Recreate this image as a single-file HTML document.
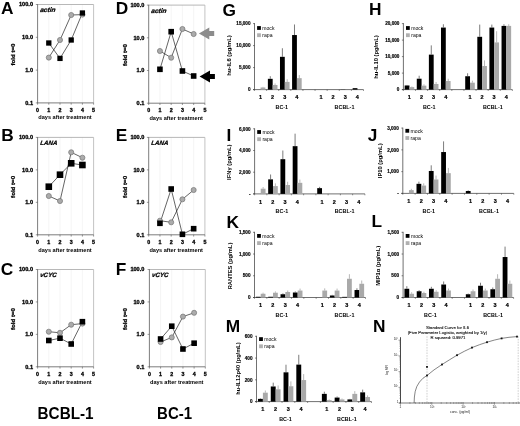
<!DOCTYPE html>
<html lang="en">
<head>
<meta charset="utf-8">
<title>Figure</title>
<style>
html,body{margin:0;padding:0;background:#fff;}
body{width:520px;height:426px;overflow:hidden;}
svg{display:block;font-family:"Liberation Sans", sans-serif;filter:blur(0.4px);}
</style>
</head>
<body>
<svg width="520" height="426" viewBox="0 0 520 426">
<rect x="0" y="0" width="520" height="426" fill="#ffffff"/>
<text x="1.00" y="14.00" font-size="17.3" font-weight="bold" font-style="normal" text-anchor="start" fill="#000">A</text>
<line x1="48.80" y1="4.50" x2="48.80" y2="102.90" stroke="#efefef" stroke-width="0.6"/>
<line x1="60.00" y1="4.50" x2="60.00" y2="102.90" stroke="#efefef" stroke-width="0.6"/>
<line x1="71.20" y1="4.50" x2="71.20" y2="102.90" stroke="#efefef" stroke-width="0.6"/>
<line x1="82.40" y1="4.50" x2="82.40" y2="102.90" stroke="#efefef" stroke-width="0.6"/>
<line x1="37.60" y1="4.50" x2="93.60" y2="4.50" stroke="#9a9a9a" stroke-width="0.7"/>
<line x1="93.60" y1="4.50" x2="93.60" y2="102.90" stroke="#b4b4b4" stroke-width="0.8"/>
<line x1="37.60" y1="4.20" x2="37.60" y2="103.20" stroke="#5c5c5c" stroke-width="0.8"/>
<line x1="37.60" y1="102.90" x2="93.60" y2="102.90" stroke="#5c5c5c" stroke-width="0.8"/>
<line x1="35.80" y1="4.50" x2="37.60" y2="4.50" stroke="#555" stroke-width="0.6"/>
<text x="33.00" y="6.45" font-size="5.6" font-weight="bold" font-style="normal" text-anchor="end" fill="#000" stroke="#000" stroke-width="0.3">100.0</text>
<line x1="35.80" y1="37.30" x2="37.60" y2="37.30" stroke="#555" stroke-width="0.6"/>
<text x="33.00" y="39.25" font-size="5.6" font-weight="bold" font-style="normal" text-anchor="end" fill="#000" stroke="#000" stroke-width="0.3">10.0</text>
<line x1="35.80" y1="70.10" x2="37.60" y2="70.10" stroke="#555" stroke-width="0.6"/>
<text x="33.00" y="72.05" font-size="5.6" font-weight="bold" font-style="normal" text-anchor="end" fill="#000" stroke="#000" stroke-width="0.3">1.0</text>
<line x1="35.80" y1="102.90" x2="37.60" y2="102.90" stroke="#555" stroke-width="0.6"/>
<text x="33.00" y="104.85" font-size="5.6" font-weight="bold" font-style="normal" text-anchor="end" fill="#000" stroke="#000" stroke-width="0.3">0.1</text>
<line x1="37.60" y1="102.90" x2="37.60" y2="104.70" stroke="#555" stroke-width="0.6"/>
<text x="37.60" y="112.10" font-size="5.3" font-weight="bold" font-style="normal" text-anchor="middle" fill="#000" stroke="#000" stroke-width="0.3">0</text>
<line x1="48.80" y1="102.90" x2="48.80" y2="104.70" stroke="#555" stroke-width="0.6"/>
<text x="48.80" y="112.10" font-size="5.3" font-weight="bold" font-style="normal" text-anchor="middle" fill="#000" stroke="#000" stroke-width="0.3">1</text>
<line x1="60.00" y1="102.90" x2="60.00" y2="104.70" stroke="#555" stroke-width="0.6"/>
<text x="60.00" y="112.10" font-size="5.3" font-weight="bold" font-style="normal" text-anchor="middle" fill="#000" stroke="#000" stroke-width="0.3">2</text>
<line x1="71.20" y1="102.90" x2="71.20" y2="104.70" stroke="#555" stroke-width="0.6"/>
<text x="71.20" y="112.10" font-size="5.3" font-weight="bold" font-style="normal" text-anchor="middle" fill="#000" stroke="#000" stroke-width="0.3">3</text>
<line x1="82.40" y1="102.90" x2="82.40" y2="104.70" stroke="#555" stroke-width="0.6"/>
<text x="82.40" y="112.10" font-size="5.3" font-weight="bold" font-style="normal" text-anchor="middle" fill="#000" stroke="#000" stroke-width="0.3">4</text>
<line x1="93.60" y1="102.90" x2="93.60" y2="104.70" stroke="#555" stroke-width="0.6"/>
<text x="93.60" y="112.10" font-size="5.3" font-weight="bold" font-style="normal" text-anchor="middle" fill="#000" stroke="#000" stroke-width="0.3">5</text>
<text x="65.00" y="119.20" font-size="5.6" font-weight="bold" font-style="normal" text-anchor="middle" fill="#000">days after treatment</text>
<text x="14.90" y="54.50" font-size="5.7" font-weight="bold" font-style="normal" text-anchor="middle" fill="#000" stroke="#000" stroke-width="0.25" transform="rotate(-90 14.90 54.50)" textLength="22" lengthAdjust="spacingAndGlyphs">fold t=0</text>
<text x="39.90" y="12.50" font-size="6.6" font-weight="bold" font-style="italic" text-anchor="start" fill="#000" stroke="#000" stroke-width="0.25" transform="translate(39.90 12.50) skewX(-7) translate(-39.90 -12.50)">actin</text>
<polyline points="48.80,57.60 60.00,40.00 71.20,15.00 82.40,14.60" fill="none" stroke="#222" stroke-width="0.7"/>
<polyline points="48.80,43.00 60.00,58.40 71.20,40.00 82.40,13.00" fill="none" stroke="#222" stroke-width="0.7"/>
<circle cx="48.80" cy="57.60" r="2.55" fill="#ababab" stroke="#767676" stroke-width="0.7"/>
<circle cx="60.00" cy="40.00" r="2.55" fill="#ababab" stroke="#767676" stroke-width="0.7"/>
<circle cx="71.20" cy="15.00" r="2.55" fill="#ababab" stroke="#767676" stroke-width="0.7"/>
<circle cx="82.40" cy="14.60" r="2.55" fill="#ababab" stroke="#767676" stroke-width="0.7"/>
<rect x="46.15" y="40.35" width="5.3" height="5.3" fill="#000"/>
<rect x="57.35" y="55.75" width="5.3" height="5.3" fill="#000"/>
<rect x="68.55" y="37.35" width="5.3" height="5.3" fill="#000"/>
<rect x="79.75" y="10.35" width="5.3" height="5.3" fill="#000"/>
<text x="1.30" y="141.00" font-size="17.3" font-weight="bold" font-style="normal" text-anchor="start" fill="#000">B</text>
<line x1="48.80" y1="137.40" x2="48.80" y2="234.80" stroke="#efefef" stroke-width="0.6"/>
<line x1="60.00" y1="137.40" x2="60.00" y2="234.80" stroke="#efefef" stroke-width="0.6"/>
<line x1="71.20" y1="137.40" x2="71.20" y2="234.80" stroke="#efefef" stroke-width="0.6"/>
<line x1="82.40" y1="137.40" x2="82.40" y2="234.80" stroke="#efefef" stroke-width="0.6"/>
<line x1="37.60" y1="137.40" x2="93.60" y2="137.40" stroke="#9a9a9a" stroke-width="0.7"/>
<line x1="93.60" y1="137.40" x2="93.60" y2="234.80" stroke="#b4b4b4" stroke-width="0.8"/>
<line x1="37.60" y1="137.10" x2="37.60" y2="235.10" stroke="#5c5c5c" stroke-width="0.8"/>
<line x1="37.60" y1="234.80" x2="93.60" y2="234.80" stroke="#5c5c5c" stroke-width="0.8"/>
<line x1="35.80" y1="137.40" x2="37.60" y2="137.40" stroke="#555" stroke-width="0.6"/>
<text x="33.00" y="139.35" font-size="5.6" font-weight="bold" font-style="normal" text-anchor="end" fill="#000" stroke="#000" stroke-width="0.3">100.0</text>
<line x1="35.80" y1="169.87" x2="37.60" y2="169.87" stroke="#555" stroke-width="0.6"/>
<text x="33.00" y="171.82" font-size="5.6" font-weight="bold" font-style="normal" text-anchor="end" fill="#000" stroke="#000" stroke-width="0.3">10.0</text>
<line x1="35.80" y1="202.33" x2="37.60" y2="202.33" stroke="#555" stroke-width="0.6"/>
<text x="33.00" y="204.28" font-size="5.6" font-weight="bold" font-style="normal" text-anchor="end" fill="#000" stroke="#000" stroke-width="0.3">1.0</text>
<line x1="35.80" y1="234.80" x2="37.60" y2="234.80" stroke="#555" stroke-width="0.6"/>
<text x="33.00" y="236.75" font-size="5.6" font-weight="bold" font-style="normal" text-anchor="end" fill="#000" stroke="#000" stroke-width="0.3">0.1</text>
<line x1="37.60" y1="234.80" x2="37.60" y2="236.60" stroke="#555" stroke-width="0.6"/>
<text x="37.60" y="244.48" font-size="5.3" font-weight="bold" font-style="normal" text-anchor="middle" fill="#000" stroke="#000" stroke-width="0.3">0</text>
<line x1="48.80" y1="234.80" x2="48.80" y2="236.60" stroke="#555" stroke-width="0.6"/>
<text x="48.80" y="244.48" font-size="5.3" font-weight="bold" font-style="normal" text-anchor="middle" fill="#000" stroke="#000" stroke-width="0.3">1</text>
<line x1="60.00" y1="234.80" x2="60.00" y2="236.60" stroke="#555" stroke-width="0.6"/>
<text x="60.00" y="244.48" font-size="5.3" font-weight="bold" font-style="normal" text-anchor="middle" fill="#000" stroke="#000" stroke-width="0.3">2</text>
<line x1="71.20" y1="234.80" x2="71.20" y2="236.60" stroke="#555" stroke-width="0.6"/>
<text x="71.20" y="244.48" font-size="5.3" font-weight="bold" font-style="normal" text-anchor="middle" fill="#000" stroke="#000" stroke-width="0.3">3</text>
<line x1="82.40" y1="234.80" x2="82.40" y2="236.60" stroke="#555" stroke-width="0.6"/>
<text x="82.40" y="244.48" font-size="5.3" font-weight="bold" font-style="normal" text-anchor="middle" fill="#000" stroke="#000" stroke-width="0.3">4</text>
<line x1="93.60" y1="234.80" x2="93.60" y2="236.60" stroke="#555" stroke-width="0.6"/>
<text x="93.60" y="244.48" font-size="5.3" font-weight="bold" font-style="normal" text-anchor="middle" fill="#000" stroke="#000" stroke-width="0.3">5</text>
<text x="65.00" y="252.30" font-size="5.6" font-weight="bold" font-style="normal" text-anchor="middle" fill="#000">days after treatment</text>
<text x="14.90" y="186.90" font-size="5.7" font-weight="bold" font-style="normal" text-anchor="middle" fill="#000" stroke="#000" stroke-width="0.25" transform="rotate(-90 14.90 186.90)" textLength="22" lengthAdjust="spacingAndGlyphs">fold t=0</text>
<text x="39.90" y="145.10" font-size="6.25" font-weight="bold" font-style="italic" text-anchor="start" fill="#000" stroke="#000" stroke-width="0.25" transform="translate(39.90 145.10) skewX(-7) translate(-39.90 -145.10)">LANA</text>
<polyline points="48.80,196.00 60.00,201.00 71.20,152.30 82.40,157.70" fill="none" stroke="#222" stroke-width="0.7"/>
<polyline points="48.80,186.70 60.00,174.70 71.20,163.30 82.40,165.00" fill="none" stroke="#222" stroke-width="0.7"/>
<circle cx="48.80" cy="196.00" r="2.55" fill="#ababab" stroke="#767676" stroke-width="0.7"/>
<circle cx="60.00" cy="201.00" r="2.55" fill="#ababab" stroke="#767676" stroke-width="0.7"/>
<circle cx="71.20" cy="152.30" r="2.55" fill="#ababab" stroke="#767676" stroke-width="0.7"/>
<circle cx="82.40" cy="157.70" r="2.55" fill="#ababab" stroke="#767676" stroke-width="0.7"/>
<rect x="45.50" y="183.40" width="6.6" height="6.6" fill="#000"/>
<rect x="56.70" y="171.40" width="6.6" height="6.6" fill="#000"/>
<rect x="67.90" y="160.00" width="6.6" height="6.6" fill="#000"/>
<rect x="79.10" y="161.70" width="6.6" height="6.6" fill="#000"/>
<text x="0.80" y="274.60" font-size="17.3" font-weight="bold" font-style="normal" text-anchor="start" fill="#000">C</text>
<line x1="48.80" y1="269.50" x2="48.80" y2="366.80" stroke="#efefef" stroke-width="0.6"/>
<line x1="60.00" y1="269.50" x2="60.00" y2="366.80" stroke="#efefef" stroke-width="0.6"/>
<line x1="71.20" y1="269.50" x2="71.20" y2="366.80" stroke="#efefef" stroke-width="0.6"/>
<line x1="82.40" y1="269.50" x2="82.40" y2="366.80" stroke="#efefef" stroke-width="0.6"/>
<line x1="37.60" y1="269.50" x2="93.60" y2="269.50" stroke="#9a9a9a" stroke-width="0.7"/>
<line x1="93.60" y1="269.50" x2="93.60" y2="366.80" stroke="#b4b4b4" stroke-width="0.8"/>
<line x1="37.60" y1="269.20" x2="37.60" y2="367.10" stroke="#5c5c5c" stroke-width="0.8"/>
<line x1="37.60" y1="366.80" x2="93.60" y2="366.80" stroke="#5c5c5c" stroke-width="0.8"/>
<line x1="35.80" y1="269.50" x2="37.60" y2="269.50" stroke="#555" stroke-width="0.6"/>
<text x="33.00" y="271.45" font-size="5.6" font-weight="bold" font-style="normal" text-anchor="end" fill="#000" stroke="#000" stroke-width="0.3">100.0</text>
<line x1="35.80" y1="301.93" x2="37.60" y2="301.93" stroke="#555" stroke-width="0.6"/>
<text x="33.00" y="303.88" font-size="5.6" font-weight="bold" font-style="normal" text-anchor="end" fill="#000" stroke="#000" stroke-width="0.3">10.0</text>
<line x1="35.80" y1="334.37" x2="37.60" y2="334.37" stroke="#555" stroke-width="0.6"/>
<text x="33.00" y="336.32" font-size="5.6" font-weight="bold" font-style="normal" text-anchor="end" fill="#000" stroke="#000" stroke-width="0.3">1.0</text>
<line x1="35.80" y1="366.80" x2="37.60" y2="366.80" stroke="#555" stroke-width="0.6"/>
<text x="33.00" y="368.75" font-size="5.6" font-weight="bold" font-style="normal" text-anchor="end" fill="#000" stroke="#000" stroke-width="0.3">0.1</text>
<line x1="37.60" y1="366.80" x2="37.60" y2="368.60" stroke="#555" stroke-width="0.6"/>
<text x="37.60" y="376.36" font-size="5.3" font-weight="bold" font-style="normal" text-anchor="middle" fill="#000" stroke="#000" stroke-width="0.3">0</text>
<line x1="48.80" y1="366.80" x2="48.80" y2="368.60" stroke="#555" stroke-width="0.6"/>
<text x="48.80" y="376.36" font-size="5.3" font-weight="bold" font-style="normal" text-anchor="middle" fill="#000" stroke="#000" stroke-width="0.3">1</text>
<line x1="60.00" y1="366.80" x2="60.00" y2="368.60" stroke="#555" stroke-width="0.6"/>
<text x="60.00" y="376.36" font-size="5.3" font-weight="bold" font-style="normal" text-anchor="middle" fill="#000" stroke="#000" stroke-width="0.3">2</text>
<line x1="71.20" y1="366.80" x2="71.20" y2="368.60" stroke="#555" stroke-width="0.6"/>
<text x="71.20" y="376.36" font-size="5.3" font-weight="bold" font-style="normal" text-anchor="middle" fill="#000" stroke="#000" stroke-width="0.3">3</text>
<line x1="82.40" y1="366.80" x2="82.40" y2="368.60" stroke="#555" stroke-width="0.6"/>
<text x="82.40" y="376.36" font-size="5.3" font-weight="bold" font-style="normal" text-anchor="middle" fill="#000" stroke="#000" stroke-width="0.3">4</text>
<line x1="93.60" y1="366.80" x2="93.60" y2="368.60" stroke="#555" stroke-width="0.6"/>
<text x="93.60" y="376.36" font-size="5.3" font-weight="bold" font-style="normal" text-anchor="middle" fill="#000" stroke="#000" stroke-width="0.3">5</text>
<text x="65.00" y="384.00" font-size="5.6" font-weight="bold" font-style="normal" text-anchor="middle" fill="#000">days after treatment</text>
<text x="14.90" y="318.95" font-size="5.7" font-weight="bold" font-style="normal" text-anchor="middle" fill="#000" stroke="#000" stroke-width="0.25" transform="rotate(-90 14.90 318.95)" textLength="22" lengthAdjust="spacingAndGlyphs">fold t=0</text>
<text x="39.90" y="277.20" font-size="6.25" font-weight="bold" font-style="italic" text-anchor="start" fill="#000" stroke="#000" stroke-width="0.25" transform="translate(39.90 277.20) skewX(-7) translate(-39.90 -277.20)">vCYC</text>
<polyline points="48.80,331.70 60.00,332.80 71.20,324.70 82.40,323.60" fill="none" stroke="#222" stroke-width="0.7"/>
<polyline points="48.80,340.50 60.00,338.20 71.20,344.00 82.40,321.70" fill="none" stroke="#222" stroke-width="0.7"/>
<circle cx="48.80" cy="331.70" r="2.55" fill="#ababab" stroke="#767676" stroke-width="0.7"/>
<circle cx="60.00" cy="332.80" r="2.55" fill="#ababab" stroke="#767676" stroke-width="0.7"/>
<circle cx="71.20" cy="324.70" r="2.55" fill="#ababab" stroke="#767676" stroke-width="0.7"/>
<circle cx="82.40" cy="323.60" r="2.55" fill="#ababab" stroke="#767676" stroke-width="0.7"/>
<rect x="46.00" y="337.70" width="5.6" height="5.6" fill="#000"/>
<rect x="57.20" y="335.40" width="5.6" height="5.6" fill="#000"/>
<rect x="68.40" y="341.20" width="5.6" height="5.6" fill="#000"/>
<rect x="79.60" y="318.90" width="5.6" height="5.6" fill="#000"/>
<text x="115.80" y="14.00" font-size="17.3" font-weight="bold" font-style="normal" text-anchor="start" fill="#000">D</text>
<line x1="159.94" y1="5.10" x2="159.94" y2="103.20" stroke="#efefef" stroke-width="0.6"/>
<line x1="171.18" y1="5.10" x2="171.18" y2="103.20" stroke="#efefef" stroke-width="0.6"/>
<line x1="182.42" y1="5.10" x2="182.42" y2="103.20" stroke="#efefef" stroke-width="0.6"/>
<line x1="193.66" y1="5.10" x2="193.66" y2="103.20" stroke="#efefef" stroke-width="0.6"/>
<line x1="148.70" y1="5.10" x2="204.90" y2="5.10" stroke="#9a9a9a" stroke-width="0.7"/>
<line x1="204.90" y1="5.10" x2="204.90" y2="103.20" stroke="#b4b4b4" stroke-width="0.8"/>
<line x1="148.70" y1="4.80" x2="148.70" y2="103.50" stroke="#5c5c5c" stroke-width="0.8"/>
<line x1="148.70" y1="103.20" x2="204.90" y2="103.20" stroke="#5c5c5c" stroke-width="0.8"/>
<line x1="146.90" y1="5.10" x2="148.70" y2="5.10" stroke="#555" stroke-width="0.6"/>
<text x="144.40" y="7.05" font-size="5.6" font-weight="bold" font-style="normal" text-anchor="end" fill="#000" stroke="#000" stroke-width="0.3">100.0</text>
<line x1="146.90" y1="37.80" x2="148.70" y2="37.80" stroke="#555" stroke-width="0.6"/>
<text x="144.40" y="39.75" font-size="5.6" font-weight="bold" font-style="normal" text-anchor="end" fill="#000" stroke="#000" stroke-width="0.3">10.0</text>
<line x1="146.90" y1="70.50" x2="148.70" y2="70.50" stroke="#555" stroke-width="0.6"/>
<text x="144.40" y="72.45" font-size="5.6" font-weight="bold" font-style="normal" text-anchor="end" fill="#000" stroke="#000" stroke-width="0.3">1.0</text>
<line x1="146.90" y1="103.20" x2="148.70" y2="103.20" stroke="#555" stroke-width="0.6"/>
<text x="144.40" y="105.15" font-size="5.6" font-weight="bold" font-style="normal" text-anchor="end" fill="#000" stroke="#000" stroke-width="0.3">0.1</text>
<line x1="148.70" y1="103.20" x2="148.70" y2="105.00" stroke="#555" stroke-width="0.6"/>
<text x="148.70" y="112.40" font-size="5.3" font-weight="bold" font-style="normal" text-anchor="middle" fill="#000" stroke="#000" stroke-width="0.3">0</text>
<line x1="159.94" y1="103.20" x2="159.94" y2="105.00" stroke="#555" stroke-width="0.6"/>
<text x="159.94" y="112.40" font-size="5.3" font-weight="bold" font-style="normal" text-anchor="middle" fill="#000" stroke="#000" stroke-width="0.3">1</text>
<line x1="171.18" y1="103.20" x2="171.18" y2="105.00" stroke="#555" stroke-width="0.6"/>
<text x="171.18" y="112.40" font-size="5.3" font-weight="bold" font-style="normal" text-anchor="middle" fill="#000" stroke="#000" stroke-width="0.3">2</text>
<line x1="182.42" y1="103.20" x2="182.42" y2="105.00" stroke="#555" stroke-width="0.6"/>
<text x="182.42" y="112.40" font-size="5.3" font-weight="bold" font-style="normal" text-anchor="middle" fill="#000" stroke="#000" stroke-width="0.3">3</text>
<line x1="193.66" y1="103.20" x2="193.66" y2="105.00" stroke="#555" stroke-width="0.6"/>
<text x="193.66" y="112.40" font-size="5.3" font-weight="bold" font-style="normal" text-anchor="middle" fill="#000" stroke="#000" stroke-width="0.3">4</text>
<line x1="204.90" y1="103.20" x2="204.90" y2="105.00" stroke="#555" stroke-width="0.6"/>
<text x="204.90" y="112.40" font-size="5.3" font-weight="bold" font-style="normal" text-anchor="middle" fill="#000" stroke="#000" stroke-width="0.3">5</text>
<text x="176.20" y="119.50" font-size="5.6" font-weight="bold" font-style="normal" text-anchor="middle" fill="#000">days after treatment</text>
<text x="126.70" y="54.95" font-size="5.7" font-weight="bold" font-style="normal" text-anchor="middle" fill="#000" stroke="#000" stroke-width="0.25" transform="rotate(-90 126.70 54.95)" textLength="22" lengthAdjust="spacingAndGlyphs">fold t=0</text>
<text x="151.00" y="13.10" font-size="6.6" font-weight="bold" font-style="italic" text-anchor="start" fill="#000" stroke="#000" stroke-width="0.25" transform="translate(151.00 13.10) skewX(-7) translate(-151.00 -13.10)">actin</text>
<polyline points="159.94,51.00 171.18,57.70 182.42,29.00 193.66,34.00" fill="none" stroke="#222" stroke-width="0.7"/>
<polyline points="159.94,69.30 171.18,31.70 182.42,71.00 193.66,76.00" fill="none" stroke="#222" stroke-width="0.7"/>
<circle cx="159.94" cy="51.00" r="2.55" fill="#ababab" stroke="#767676" stroke-width="0.7"/>
<circle cx="171.18" cy="57.70" r="2.55" fill="#ababab" stroke="#767676" stroke-width="0.7"/>
<circle cx="182.42" cy="29.00" r="2.55" fill="#ababab" stroke="#767676" stroke-width="0.7"/>
<circle cx="193.66" cy="34.00" r="2.55" fill="#ababab" stroke="#767676" stroke-width="0.7"/>
<rect x="157.14" y="66.50" width="5.6" height="5.6" fill="#000"/>
<rect x="168.38" y="28.90" width="5.6" height="5.6" fill="#000"/>
<rect x="179.62" y="68.20" width="5.6" height="5.6" fill="#000"/>
<rect x="190.86" y="73.20" width="5.6" height="5.6" fill="#000"/>
<text x="115.80" y="141.00" font-size="17.3" font-weight="bold" font-style="normal" text-anchor="start" fill="#000">E</text>
<line x1="159.94" y1="137.40" x2="159.94" y2="234.80" stroke="#efefef" stroke-width="0.6"/>
<line x1="171.18" y1="137.40" x2="171.18" y2="234.80" stroke="#efefef" stroke-width="0.6"/>
<line x1="182.42" y1="137.40" x2="182.42" y2="234.80" stroke="#efefef" stroke-width="0.6"/>
<line x1="193.66" y1="137.40" x2="193.66" y2="234.80" stroke="#efefef" stroke-width="0.6"/>
<line x1="148.70" y1="137.40" x2="204.90" y2="137.40" stroke="#9a9a9a" stroke-width="0.7"/>
<line x1="204.90" y1="137.40" x2="204.90" y2="234.80" stroke="#b4b4b4" stroke-width="0.8"/>
<line x1="148.70" y1="137.10" x2="148.70" y2="235.10" stroke="#5c5c5c" stroke-width="0.8"/>
<line x1="148.70" y1="234.80" x2="204.90" y2="234.80" stroke="#5c5c5c" stroke-width="0.8"/>
<line x1="146.90" y1="137.40" x2="148.70" y2="137.40" stroke="#555" stroke-width="0.6"/>
<text x="144.40" y="139.35" font-size="5.6" font-weight="bold" font-style="normal" text-anchor="end" fill="#000" stroke="#000" stroke-width="0.3">100.0</text>
<line x1="146.90" y1="169.87" x2="148.70" y2="169.87" stroke="#555" stroke-width="0.6"/>
<text x="144.40" y="171.82" font-size="5.6" font-weight="bold" font-style="normal" text-anchor="end" fill="#000" stroke="#000" stroke-width="0.3">10.0</text>
<line x1="146.90" y1="202.33" x2="148.70" y2="202.33" stroke="#555" stroke-width="0.6"/>
<text x="144.40" y="204.28" font-size="5.6" font-weight="bold" font-style="normal" text-anchor="end" fill="#000" stroke="#000" stroke-width="0.3">1.0</text>
<line x1="146.90" y1="234.80" x2="148.70" y2="234.80" stroke="#555" stroke-width="0.6"/>
<text x="144.40" y="236.75" font-size="5.6" font-weight="bold" font-style="normal" text-anchor="end" fill="#000" stroke="#000" stroke-width="0.3">0.1</text>
<line x1="148.70" y1="234.80" x2="148.70" y2="236.60" stroke="#555" stroke-width="0.6"/>
<text x="148.70" y="244.48" font-size="5.3" font-weight="bold" font-style="normal" text-anchor="middle" fill="#000" stroke="#000" stroke-width="0.3">0</text>
<line x1="159.94" y1="234.80" x2="159.94" y2="236.60" stroke="#555" stroke-width="0.6"/>
<text x="159.94" y="244.48" font-size="5.3" font-weight="bold" font-style="normal" text-anchor="middle" fill="#000" stroke="#000" stroke-width="0.3">1</text>
<line x1="171.18" y1="234.80" x2="171.18" y2="236.60" stroke="#555" stroke-width="0.6"/>
<text x="171.18" y="244.48" font-size="5.3" font-weight="bold" font-style="normal" text-anchor="middle" fill="#000" stroke="#000" stroke-width="0.3">2</text>
<line x1="182.42" y1="234.80" x2="182.42" y2="236.60" stroke="#555" stroke-width="0.6"/>
<text x="182.42" y="244.48" font-size="5.3" font-weight="bold" font-style="normal" text-anchor="middle" fill="#000" stroke="#000" stroke-width="0.3">3</text>
<line x1="193.66" y1="234.80" x2="193.66" y2="236.60" stroke="#555" stroke-width="0.6"/>
<text x="193.66" y="244.48" font-size="5.3" font-weight="bold" font-style="normal" text-anchor="middle" fill="#000" stroke="#000" stroke-width="0.3">4</text>
<line x1="204.90" y1="234.80" x2="204.90" y2="236.60" stroke="#555" stroke-width="0.6"/>
<text x="204.90" y="244.48" font-size="5.3" font-weight="bold" font-style="normal" text-anchor="middle" fill="#000" stroke="#000" stroke-width="0.3">5</text>
<text x="176.20" y="252.30" font-size="5.6" font-weight="bold" font-style="normal" text-anchor="middle" fill="#000">days after treatment</text>
<text x="126.70" y="186.90" font-size="5.7" font-weight="bold" font-style="normal" text-anchor="middle" fill="#000" stroke="#000" stroke-width="0.25" transform="rotate(-90 126.70 186.90)" textLength="22" lengthAdjust="spacingAndGlyphs">fold t=0</text>
<text x="151.00" y="145.10" font-size="6.25" font-weight="bold" font-style="italic" text-anchor="start" fill="#000" stroke="#000" stroke-width="0.25" transform="translate(151.00 145.10) skewX(-7) translate(-151.00 -145.10)">LANA</text>
<polyline points="159.94,220.70 171.18,222.30 182.42,199.30 193.66,190.00" fill="none" stroke="#222" stroke-width="0.7"/>
<polyline points="159.94,223.30 171.18,189.00 182.42,234.30 193.66,228.70" fill="none" stroke="#222" stroke-width="0.7"/>
<circle cx="159.94" cy="220.70" r="2.55" fill="#ababab" stroke="#767676" stroke-width="0.7"/>
<circle cx="171.18" cy="222.30" r="2.55" fill="#ababab" stroke="#767676" stroke-width="0.7"/>
<circle cx="182.42" cy="199.30" r="2.55" fill="#ababab" stroke="#767676" stroke-width="0.7"/>
<circle cx="193.66" cy="190.00" r="2.55" fill="#ababab" stroke="#767676" stroke-width="0.7"/>
<rect x="157.14" y="220.50" width="5.6" height="5.6" fill="#000"/>
<rect x="168.38" y="186.20" width="5.6" height="5.6" fill="#000"/>
<rect x="179.62" y="231.50" width="5.6" height="5.6" fill="#000"/>
<rect x="190.86" y="225.90" width="5.6" height="5.6" fill="#000"/>
<text x="115.80" y="275.00" font-size="17.3" font-weight="bold" font-style="normal" text-anchor="start" fill="#000">F</text>
<line x1="160.58" y1="269.50" x2="160.58" y2="366.80" stroke="#efefef" stroke-width="0.6"/>
<line x1="171.76" y1="269.50" x2="171.76" y2="366.80" stroke="#efefef" stroke-width="0.6"/>
<line x1="182.94" y1="269.50" x2="182.94" y2="366.80" stroke="#efefef" stroke-width="0.6"/>
<line x1="194.12" y1="269.50" x2="194.12" y2="366.80" stroke="#efefef" stroke-width="0.6"/>
<line x1="149.40" y1="269.50" x2="205.30" y2="269.50" stroke="#9a9a9a" stroke-width="0.7"/>
<line x1="205.30" y1="269.50" x2="205.30" y2="366.80" stroke="#b4b4b4" stroke-width="0.8"/>
<line x1="149.40" y1="269.20" x2="149.40" y2="367.10" stroke="#5c5c5c" stroke-width="0.8"/>
<line x1="149.40" y1="366.80" x2="205.30" y2="366.80" stroke="#5c5c5c" stroke-width="0.8"/>
<line x1="147.60" y1="269.50" x2="149.40" y2="269.50" stroke="#555" stroke-width="0.6"/>
<text x="144.40" y="271.45" font-size="5.6" font-weight="bold" font-style="normal" text-anchor="end" fill="#000" stroke="#000" stroke-width="0.3">100.0</text>
<line x1="147.60" y1="301.93" x2="149.40" y2="301.93" stroke="#555" stroke-width="0.6"/>
<text x="144.40" y="303.88" font-size="5.6" font-weight="bold" font-style="normal" text-anchor="end" fill="#000" stroke="#000" stroke-width="0.3">10.0</text>
<line x1="147.60" y1="334.37" x2="149.40" y2="334.37" stroke="#555" stroke-width="0.6"/>
<text x="144.40" y="336.32" font-size="5.6" font-weight="bold" font-style="normal" text-anchor="end" fill="#000" stroke="#000" stroke-width="0.3">1.0</text>
<line x1="147.60" y1="366.80" x2="149.40" y2="366.80" stroke="#555" stroke-width="0.6"/>
<text x="144.40" y="368.75" font-size="5.6" font-weight="bold" font-style="normal" text-anchor="end" fill="#000" stroke="#000" stroke-width="0.3">0.1</text>
<line x1="149.40" y1="366.80" x2="149.40" y2="368.60" stroke="#555" stroke-width="0.6"/>
<text x="149.40" y="376.36" font-size="5.3" font-weight="bold" font-style="normal" text-anchor="middle" fill="#000" stroke="#000" stroke-width="0.3">0</text>
<line x1="160.58" y1="366.80" x2="160.58" y2="368.60" stroke="#555" stroke-width="0.6"/>
<text x="160.58" y="376.36" font-size="5.3" font-weight="bold" font-style="normal" text-anchor="middle" fill="#000" stroke="#000" stroke-width="0.3">1</text>
<line x1="171.76" y1="366.80" x2="171.76" y2="368.60" stroke="#555" stroke-width="0.6"/>
<text x="171.76" y="376.36" font-size="5.3" font-weight="bold" font-style="normal" text-anchor="middle" fill="#000" stroke="#000" stroke-width="0.3">2</text>
<line x1="182.94" y1="366.80" x2="182.94" y2="368.60" stroke="#555" stroke-width="0.6"/>
<text x="182.94" y="376.36" font-size="5.3" font-weight="bold" font-style="normal" text-anchor="middle" fill="#000" stroke="#000" stroke-width="0.3">3</text>
<line x1="194.12" y1="366.80" x2="194.12" y2="368.60" stroke="#555" stroke-width="0.6"/>
<text x="194.12" y="376.36" font-size="5.3" font-weight="bold" font-style="normal" text-anchor="middle" fill="#000" stroke="#000" stroke-width="0.3">4</text>
<line x1="205.30" y1="366.80" x2="205.30" y2="368.60" stroke="#555" stroke-width="0.6"/>
<text x="205.30" y="376.36" font-size="5.3" font-weight="bold" font-style="normal" text-anchor="middle" fill="#000" stroke="#000" stroke-width="0.3">5</text>
<text x="176.75" y="384.00" font-size="5.6" font-weight="bold" font-style="normal" text-anchor="middle" fill="#000">days after treatment</text>
<text x="126.70" y="318.95" font-size="5.7" font-weight="bold" font-style="normal" text-anchor="middle" fill="#000" stroke="#000" stroke-width="0.25" transform="rotate(-90 126.70 318.95)" textLength="22" lengthAdjust="spacingAndGlyphs">fold t=0</text>
<text x="151.70" y="277.20" font-size="6.25" font-weight="bold" font-style="italic" text-anchor="start" fill="#000" stroke="#000" stroke-width="0.25" transform="translate(151.70 277.20) skewX(-7) translate(-151.70 -277.20)">vCYC</text>
<polyline points="160.58,342.00 171.76,337.40 182.94,316.60 194.12,312.80" fill="none" stroke="#222" stroke-width="0.7"/>
<polyline points="160.58,339.00 171.76,326.20 182.94,349.00 194.12,343.20" fill="none" stroke="#222" stroke-width="0.7"/>
<circle cx="160.58" cy="342.00" r="2.55" fill="#ababab" stroke="#767676" stroke-width="0.7"/>
<circle cx="171.76" cy="337.40" r="2.55" fill="#ababab" stroke="#767676" stroke-width="0.7"/>
<circle cx="182.94" cy="316.60" r="2.55" fill="#ababab" stroke="#767676" stroke-width="0.7"/>
<circle cx="194.12" cy="312.80" r="2.55" fill="#ababab" stroke="#767676" stroke-width="0.7"/>
<rect x="157.78" y="336.20" width="5.6" height="5.6" fill="#000"/>
<rect x="168.96" y="323.40" width="5.6" height="5.6" fill="#000"/>
<rect x="180.14" y="346.20" width="5.6" height="5.6" fill="#000"/>
<rect x="191.32" y="340.40" width="5.6" height="5.6" fill="#000"/>
<polygon points="198.90,33.40 209.30,27.40 209.30,30.90 214.20,30.90 214.20,35.90 209.30,35.90 209.30,39.40" fill="#8c8c8c"/>
<polygon points="199.60,76.40 210.00,70.40 210.00,73.90 214.90,73.90 214.90,78.90 210.00,78.90 210.00,82.40" fill="#000"/>
<text x="65.60" y="419.00" font-size="17.3" font-weight="bold" font-style="normal" text-anchor="middle" fill="#000" textLength="56" lengthAdjust="spacingAndGlyphs">BCBL-1</text>
<text x="174.60" y="419.00" font-size="17.3" font-weight="bold" font-style="normal" text-anchor="middle" fill="#000" textLength="35" lengthAdjust="spacingAndGlyphs">BC-1</text>
<text x="222.40" y="15.70" font-size="17.3" font-weight="bold" font-style="normal" text-anchor="start" fill="#000">G</text>
<line x1="254.50" y1="23.10" x2="254.50" y2="89.60" stroke="#333" stroke-width="0.7"/>
<line x1="253.00" y1="89.60" x2="363.50" y2="89.60" stroke="#333" stroke-width="0.7"/>
<line x1="253.00" y1="89.60" x2="254.50" y2="89.60" stroke="#333" stroke-width="0.6"/>
<text x="250.50" y="91.30" font-size="4.65" font-weight="bold" font-style="normal" text-anchor="end" fill="#000" stroke="#000" stroke-width="0.15">0</text>
<line x1="253.00" y1="67.60" x2="254.50" y2="67.60" stroke="#333" stroke-width="0.6"/>
<text x="250.50" y="69.30" font-size="4.65" font-weight="bold" font-style="normal" text-anchor="end" fill="#000" stroke="#000" stroke-width="0.15">5,000</text>
<line x1="253.00" y1="45.60" x2="254.50" y2="45.60" stroke="#333" stroke-width="0.6"/>
<text x="250.50" y="47.30" font-size="4.65" font-weight="bold" font-style="normal" text-anchor="end" fill="#000" stroke="#000" stroke-width="0.15">10,000</text>
<line x1="253.00" y1="23.60" x2="254.50" y2="23.60" stroke="#333" stroke-width="0.6"/>
<text x="250.50" y="25.30" font-size="4.65" font-weight="bold" font-style="normal" text-anchor="end" fill="#000" stroke="#000" stroke-width="0.15">15,000</text>
<text x="230.60" y="55.50" font-size="5.8" font-weight="bold" font-style="normal" text-anchor="middle" fill="#000" transform="rotate(-90 230.60 55.50)">hu-IL6 (pg/mL)</text>
<text x="260.46" y="99.20" font-size="5.5" font-weight="bold" font-style="normal" text-anchor="middle" fill="#000" stroke="#000" stroke-width="0.2">1</text>
<rect x="260.56" y="87.49" width="4.8" height="2.11" fill="#a9a9a9"/>
<line x1="262.96" y1="87.49" x2="262.96" y2="86.83" stroke="#999" stroke-width="0.7"/>
<text x="272.57" y="99.20" font-size="5.5" font-weight="bold" font-style="normal" text-anchor="middle" fill="#000" stroke="#000" stroke-width="0.2">2</text>
<rect x="267.87" y="78.82" width="4.8" height="10.78" fill="#000"/>
<line x1="270.27" y1="78.82" x2="270.27" y2="76.18" stroke="#444" stroke-width="0.7"/>
<rect x="272.67" y="84.98" width="4.8" height="4.62" fill="#a9a9a9"/>
<line x1="275.07" y1="84.98" x2="275.07" y2="83.44" stroke="#999" stroke-width="0.7"/>
<text x="284.68" y="99.20" font-size="5.5" font-weight="bold" font-style="normal" text-anchor="middle" fill="#000" stroke="#000" stroke-width="0.2">3</text>
<rect x="279.98" y="56.82" width="4.8" height="32.78" fill="#000"/>
<line x1="282.38" y1="56.82" x2="282.38" y2="48.24" stroke="#444" stroke-width="0.7"/>
<rect x="284.78" y="81.90" width="4.8" height="7.70" fill="#a9a9a9"/>
<line x1="287.18" y1="81.90" x2="287.18" y2="79.26" stroke="#999" stroke-width="0.7"/>
<text x="296.79" y="99.20" font-size="5.5" font-weight="bold" font-style="normal" text-anchor="middle" fill="#000" stroke="#000" stroke-width="0.2">4</text>
<rect x="292.09" y="35.04" width="4.8" height="54.56" fill="#000"/>
<line x1="294.49" y1="35.04" x2="294.49" y2="24.48" stroke="#444" stroke-width="0.7"/>
<rect x="296.89" y="78.16" width="4.8" height="11.44" fill="#a9a9a9"/>
<line x1="299.29" y1="78.16" x2="299.29" y2="75.08" stroke="#999" stroke-width="0.7"/>
<text x="321.01" y="99.20" font-size="5.5" font-weight="bold" font-style="normal" text-anchor="middle" fill="#000" stroke="#000" stroke-width="0.2">1</text>
<text x="333.12" y="99.20" font-size="5.5" font-weight="bold" font-style="normal" text-anchor="middle" fill="#000" stroke="#000" stroke-width="0.2">2</text>
<text x="345.23" y="99.20" font-size="5.5" font-weight="bold" font-style="normal" text-anchor="middle" fill="#000" stroke="#000" stroke-width="0.2">3</text>
<rect x="340.53" y="89.42" width="4.8" height="0.18" fill="#000"/>
<text x="357.34" y="99.20" font-size="5.5" font-weight="bold" font-style="normal" text-anchor="middle" fill="#000" stroke="#000" stroke-width="0.2">4</text>
<rect x="352.64" y="88.15" width="4.8" height="1.45" fill="#000"/>
<line x1="254.50" y1="89.60" x2="254.50" y2="91.00" stroke="#333" stroke-width="0.5"/>
<line x1="266.61" y1="89.60" x2="266.61" y2="91.00" stroke="#333" stroke-width="0.5"/>
<line x1="278.72" y1="89.60" x2="278.72" y2="91.00" stroke="#333" stroke-width="0.5"/>
<line x1="290.83" y1="89.60" x2="290.83" y2="91.00" stroke="#333" stroke-width="0.5"/>
<line x1="302.94" y1="89.60" x2="302.94" y2="91.00" stroke="#333" stroke-width="0.5"/>
<line x1="315.06" y1="89.60" x2="315.06" y2="91.00" stroke="#333" stroke-width="0.5"/>
<line x1="327.17" y1="89.60" x2="327.17" y2="91.00" stroke="#333" stroke-width="0.5"/>
<line x1="339.28" y1="89.60" x2="339.28" y2="91.00" stroke="#333" stroke-width="0.5"/>
<line x1="351.39" y1="89.60" x2="351.39" y2="91.00" stroke="#333" stroke-width="0.5"/>
<line x1="363.50" y1="89.60" x2="363.50" y2="91.00" stroke="#333" stroke-width="0.5"/>
<text x="281.80" y="109.10" font-size="5.4" font-weight="bold" font-style="normal" text-anchor="middle" fill="#000">BC-1</text>
<text x="344.50" y="109.10" font-size="5.4" font-weight="bold" font-style="normal" text-anchor="middle" fill="#000">BCBL-1</text>
<rect x="257.10" y="26.10" width="3.8" height="3.8" fill="#000"/>
<text x="262.30" y="29.80" font-size="5.1" font-weight="normal" font-style="normal" text-anchor="start" fill="#000">mock</text>
<rect x="257.10" y="33.30" width="3.8" height="3.8" fill="#b0b0b0"/>
<text x="262.30" y="37.00" font-size="5.1" font-weight="normal" font-style="normal" text-anchor="start" fill="#000">rapa</text>
<text x="369.00" y="15.40" font-size="17.3" font-weight="bold" font-style="normal" text-anchor="start" fill="#000">H</text>
<line x1="403.40" y1="23.10" x2="403.40" y2="89.60" stroke="#333" stroke-width="0.7"/>
<line x1="401.90" y1="89.60" x2="512.40" y2="89.60" stroke="#333" stroke-width="0.7"/>
<line x1="401.90" y1="89.60" x2="403.40" y2="89.60" stroke="#333" stroke-width="0.6"/>
<text x="399.40" y="91.30" font-size="4.65" font-weight="bold" font-style="normal" text-anchor="end" fill="#000" stroke="#000" stroke-width="0.15">0</text>
<line x1="401.90" y1="73.10" x2="403.40" y2="73.10" stroke="#333" stroke-width="0.6"/>
<text x="399.40" y="74.80" font-size="4.65" font-weight="bold" font-style="normal" text-anchor="end" fill="#000" stroke="#000" stroke-width="0.15">5,000</text>
<line x1="401.90" y1="56.60" x2="403.40" y2="56.60" stroke="#333" stroke-width="0.6"/>
<text x="399.40" y="58.30" font-size="4.65" font-weight="bold" font-style="normal" text-anchor="end" fill="#000" stroke="#000" stroke-width="0.15">10,000</text>
<line x1="401.90" y1="40.10" x2="403.40" y2="40.10" stroke="#333" stroke-width="0.6"/>
<text x="399.40" y="41.80" font-size="4.65" font-weight="bold" font-style="normal" text-anchor="end" fill="#000" stroke="#000" stroke-width="0.15">15,000</text>
<line x1="401.90" y1="23.60" x2="403.40" y2="23.60" stroke="#333" stroke-width="0.6"/>
<text x="399.40" y="25.30" font-size="4.65" font-weight="bold" font-style="normal" text-anchor="end" fill="#000" stroke="#000" stroke-width="0.15">20,000</text>
<text x="378.30" y="57.00" font-size="5.8" font-weight="bold" font-style="normal" text-anchor="middle" fill="#000" transform="rotate(-90 378.30 57.00)">hu-IL10 (pg/mL)</text>
<text x="409.36" y="99.20" font-size="5.5" font-weight="bold" font-style="normal" text-anchor="middle" fill="#000" stroke="#000" stroke-width="0.2">1</text>
<rect x="404.66" y="85.47" width="4.8" height="4.12" fill="#000"/>
<line x1="407.06" y1="85.47" x2="407.06" y2="84.98" stroke="#444" stroke-width="0.7"/>
<rect x="409.46" y="87.12" width="4.8" height="2.48" fill="#a9a9a9"/>
<line x1="411.86" y1="87.12" x2="411.86" y2="86.47" stroke="#999" stroke-width="0.7"/>
<text x="421.47" y="99.20" font-size="5.5" font-weight="bold" font-style="normal" text-anchor="middle" fill="#000" stroke="#000" stroke-width="0.2">2</text>
<rect x="416.77" y="78.71" width="4.8" height="10.89" fill="#000"/>
<line x1="419.17" y1="78.71" x2="419.17" y2="75.74" stroke="#444" stroke-width="0.7"/>
<rect x="421.57" y="85.64" width="4.8" height="3.96" fill="#a9a9a9"/>
<line x1="423.97" y1="85.64" x2="423.97" y2="84.32" stroke="#999" stroke-width="0.7"/>
<text x="433.58" y="99.20" font-size="5.5" font-weight="bold" font-style="normal" text-anchor="middle" fill="#000" stroke="#000" stroke-width="0.2">3</text>
<rect x="428.88" y="54.62" width="4.8" height="34.98" fill="#000"/>
<line x1="431.28" y1="54.62" x2="431.28" y2="45.38" stroke="#444" stroke-width="0.7"/>
<rect x="433.68" y="83.99" width="4.8" height="5.61" fill="#a9a9a9"/>
<line x1="436.08" y1="83.99" x2="436.08" y2="82.01" stroke="#999" stroke-width="0.7"/>
<text x="445.69" y="99.20" font-size="5.5" font-weight="bold" font-style="normal" text-anchor="middle" fill="#000" stroke="#000" stroke-width="0.2">4</text>
<rect x="440.99" y="27.56" width="4.8" height="62.04" fill="#000"/>
<line x1="443.39" y1="27.56" x2="443.39" y2="24.26" stroke="#444" stroke-width="0.7"/>
<rect x="445.79" y="81.02" width="4.8" height="8.58" fill="#a9a9a9"/>
<line x1="448.19" y1="81.02" x2="448.19" y2="78.71" stroke="#999" stroke-width="0.7"/>
<text x="469.91" y="99.20" font-size="5.5" font-weight="bold" font-style="normal" text-anchor="middle" fill="#000" stroke="#000" stroke-width="0.2">1</text>
<rect x="465.21" y="76.23" width="4.8" height="13.37" fill="#000"/>
<line x1="467.61" y1="76.23" x2="467.61" y2="73.27" stroke="#444" stroke-width="0.7"/>
<rect x="470.01" y="82.67" width="4.8" height="6.93" fill="#a9a9a9"/>
<line x1="472.41" y1="82.67" x2="472.41" y2="80.69" stroke="#999" stroke-width="0.7"/>
<text x="482.02" y="99.20" font-size="5.5" font-weight="bold" font-style="normal" text-anchor="middle" fill="#000" stroke="#000" stroke-width="0.2">2</text>
<rect x="477.32" y="36.80" width="4.8" height="52.80" fill="#000"/>
<line x1="479.72" y1="36.80" x2="479.72" y2="24.59" stroke="#444" stroke-width="0.7"/>
<rect x="482.12" y="66.00" width="4.8" height="23.59" fill="#a9a9a9"/>
<line x1="484.52" y1="66.00" x2="484.52" y2="60.39" stroke="#999" stroke-width="0.7"/>
<text x="494.13" y="99.20" font-size="5.5" font-weight="bold" font-style="normal" text-anchor="middle" fill="#000" stroke="#000" stroke-width="0.2">3</text>
<rect x="489.43" y="27.56" width="4.8" height="62.04" fill="#000"/>
<line x1="491.83" y1="27.56" x2="491.83" y2="24.59" stroke="#444" stroke-width="0.7"/>
<rect x="494.23" y="42.41" width="4.8" height="47.19" fill="#a9a9a9"/>
<line x1="496.63" y1="42.41" x2="496.63" y2="31.19" stroke="#999" stroke-width="0.7"/>
<text x="506.24" y="99.20" font-size="5.5" font-weight="bold" font-style="normal" text-anchor="middle" fill="#000" stroke="#000" stroke-width="0.2">4</text>
<rect x="501.54" y="25.91" width="4.8" height="63.69" fill="#000"/>
<line x1="503.94" y1="25.91" x2="503.94" y2="24.26" stroke="#444" stroke-width="0.7"/>
<rect x="506.34" y="25.91" width="4.8" height="63.69" fill="#a9a9a9"/>
<line x1="508.74" y1="25.91" x2="508.74" y2="24.26" stroke="#999" stroke-width="0.7"/>
<line x1="403.40" y1="89.60" x2="403.40" y2="91.00" stroke="#333" stroke-width="0.5"/>
<line x1="415.51" y1="89.60" x2="415.51" y2="91.00" stroke="#333" stroke-width="0.5"/>
<line x1="427.62" y1="89.60" x2="427.62" y2="91.00" stroke="#333" stroke-width="0.5"/>
<line x1="439.73" y1="89.60" x2="439.73" y2="91.00" stroke="#333" stroke-width="0.5"/>
<line x1="451.84" y1="89.60" x2="451.84" y2="91.00" stroke="#333" stroke-width="0.5"/>
<line x1="463.96" y1="89.60" x2="463.96" y2="91.00" stroke="#333" stroke-width="0.5"/>
<line x1="476.07" y1="89.60" x2="476.07" y2="91.00" stroke="#333" stroke-width="0.5"/>
<line x1="488.18" y1="89.60" x2="488.18" y2="91.00" stroke="#333" stroke-width="0.5"/>
<line x1="500.29" y1="89.60" x2="500.29" y2="91.00" stroke="#333" stroke-width="0.5"/>
<line x1="512.40" y1="89.60" x2="512.40" y2="91.00" stroke="#333" stroke-width="0.5"/>
<text x="429.20" y="109.10" font-size="5.4" font-weight="bold" font-style="normal" text-anchor="middle" fill="#000">BC-1</text>
<text x="492.80" y="109.10" font-size="5.4" font-weight="bold" font-style="normal" text-anchor="middle" fill="#000">BCBL-1</text>
<rect x="406.00" y="26.10" width="3.8" height="3.8" fill="#000"/>
<text x="411.20" y="29.80" font-size="5.1" font-weight="normal" font-style="normal" text-anchor="start" fill="#000">mock</text>
<rect x="406.00" y="33.30" width="3.8" height="3.8" fill="#b0b0b0"/>
<text x="411.20" y="37.00" font-size="5.1" font-weight="normal" font-style="normal" text-anchor="start" fill="#000">rapa</text>
<text x="226.40" y="140.90" font-size="17.3" font-weight="bold" font-style="normal" text-anchor="start" fill="#000">I</text>
<line x1="254.60" y1="128.30" x2="254.60" y2="193.90" stroke="#333" stroke-width="0.7"/>
<line x1="253.10" y1="193.90" x2="364.90" y2="193.90" stroke="#333" stroke-width="0.7"/>
<line x1="253.10" y1="193.90" x2="254.60" y2="193.90" stroke="#333" stroke-width="0.6"/>
<text x="250.60" y="195.60" font-size="4.65" font-weight="bold" font-style="normal" text-anchor="end" fill="#000" stroke="#000" stroke-width="0.15">-</text>
<line x1="253.10" y1="172.20" x2="254.60" y2="172.20" stroke="#333" stroke-width="0.6"/>
<text x="250.60" y="173.90" font-size="4.65" font-weight="bold" font-style="normal" text-anchor="end" fill="#000" stroke="#000" stroke-width="0.15">2,000</text>
<line x1="253.10" y1="150.50" x2="254.60" y2="150.50" stroke="#333" stroke-width="0.6"/>
<text x="250.60" y="152.20" font-size="4.65" font-weight="bold" font-style="normal" text-anchor="end" fill="#000" stroke="#000" stroke-width="0.15">4,000</text>
<line x1="253.10" y1="128.80" x2="254.60" y2="128.80" stroke="#333" stroke-width="0.6"/>
<text x="250.60" y="130.50" font-size="4.65" font-weight="bold" font-style="normal" text-anchor="end" fill="#000" stroke="#000" stroke-width="0.15">6,000</text>
<text x="231.40" y="162.20" font-size="5.8" font-weight="bold" font-style="normal" text-anchor="middle" fill="#000" transform="rotate(-90 231.40 162.20)">IFNγ (pg/mL)</text>
<text x="260.63" y="203.50" font-size="5.5" font-weight="bold" font-style="normal" text-anchor="middle" fill="#000" stroke="#000" stroke-width="0.2">1</text>
<rect x="260.73" y="188.69" width="4.8" height="5.21" fill="#a9a9a9"/>
<line x1="263.13" y1="188.69" x2="263.13" y2="187.06" stroke="#999" stroke-width="0.7"/>
<text x="272.88" y="203.50" font-size="5.5" font-weight="bold" font-style="normal" text-anchor="middle" fill="#000" stroke="#000" stroke-width="0.2">2</text>
<rect x="268.18" y="179.36" width="4.8" height="14.54" fill="#000"/>
<line x1="270.58" y1="179.36" x2="270.58" y2="174.48" stroke="#444" stroke-width="0.7"/>
<rect x="272.98" y="186.09" width="4.8" height="7.81" fill="#a9a9a9"/>
<line x1="275.38" y1="186.09" x2="275.38" y2="183.38" stroke="#999" stroke-width="0.7"/>
<text x="285.14" y="203.50" font-size="5.5" font-weight="bold" font-style="normal" text-anchor="middle" fill="#000" stroke="#000" stroke-width="0.2">3</text>
<rect x="280.44" y="159.18" width="4.8" height="34.72" fill="#000"/>
<line x1="282.84" y1="159.18" x2="282.84" y2="150.50" stroke="#444" stroke-width="0.7"/>
<rect x="285.24" y="185.00" width="4.8" height="8.90" fill="#a9a9a9"/>
<line x1="287.64" y1="185.00" x2="287.64" y2="181.75" stroke="#999" stroke-width="0.7"/>
<text x="297.39" y="203.50" font-size="5.5" font-weight="bold" font-style="normal" text-anchor="middle" fill="#000" stroke="#000" stroke-width="0.2">4</text>
<rect x="292.69" y="146.16" width="4.8" height="47.74" fill="#000"/>
<line x1="295.09" y1="146.16" x2="295.09" y2="133.68" stroke="#444" stroke-width="0.7"/>
<rect x="297.49" y="182.83" width="4.8" height="11.07" fill="#a9a9a9"/>
<line x1="299.89" y1="182.83" x2="299.89" y2="179.58" stroke="#999" stroke-width="0.7"/>
<text x="321.91" y="203.50" font-size="5.5" font-weight="bold" font-style="normal" text-anchor="middle" fill="#000" stroke="#000" stroke-width="0.2">1</text>
<rect x="317.21" y="188.15" width="4.8" height="5.75" fill="#000"/>
<line x1="319.61" y1="188.15" x2="319.61" y2="186.85" stroke="#444" stroke-width="0.7"/>
<text x="334.16" y="203.50" font-size="5.5" font-weight="bold" font-style="normal" text-anchor="middle" fill="#000" stroke="#000" stroke-width="0.2">2</text>
<text x="346.42" y="203.50" font-size="5.5" font-weight="bold" font-style="normal" text-anchor="middle" fill="#000" stroke="#000" stroke-width="0.2">3</text>
<text x="358.67" y="203.50" font-size="5.5" font-weight="bold" font-style="normal" text-anchor="middle" fill="#000" stroke="#000" stroke-width="0.2">4</text>
<line x1="254.60" y1="193.90" x2="254.60" y2="195.30" stroke="#333" stroke-width="0.5"/>
<line x1="266.86" y1="193.90" x2="266.86" y2="195.30" stroke="#333" stroke-width="0.5"/>
<line x1="279.11" y1="193.90" x2="279.11" y2="195.30" stroke="#333" stroke-width="0.5"/>
<line x1="291.37" y1="193.90" x2="291.37" y2="195.30" stroke="#333" stroke-width="0.5"/>
<line x1="303.62" y1="193.90" x2="303.62" y2="195.30" stroke="#333" stroke-width="0.5"/>
<line x1="315.88" y1="193.90" x2="315.88" y2="195.30" stroke="#333" stroke-width="0.5"/>
<line x1="328.13" y1="193.90" x2="328.13" y2="195.30" stroke="#333" stroke-width="0.5"/>
<line x1="340.39" y1="193.90" x2="340.39" y2="195.30" stroke="#333" stroke-width="0.5"/>
<line x1="352.64" y1="193.90" x2="352.64" y2="195.30" stroke="#333" stroke-width="0.5"/>
<line x1="364.90" y1="193.90" x2="364.90" y2="195.30" stroke="#333" stroke-width="0.5"/>
<text x="281.90" y="213.40" font-size="5.4" font-weight="bold" font-style="normal" text-anchor="middle" fill="#000">BC-1</text>
<text x="344.60" y="213.40" font-size="5.4" font-weight="bold" font-style="normal" text-anchor="middle" fill="#000">BCBL-1</text>
<rect x="257.20" y="130.10" width="3.8" height="3.8" fill="#000"/>
<text x="262.40" y="133.80" font-size="5.1" font-weight="normal" font-style="normal" text-anchor="start" fill="#000">mock</text>
<rect x="257.20" y="137.30" width="3.8" height="3.8" fill="#b0b0b0"/>
<text x="262.40" y="141.00" font-size="5.1" font-weight="normal" font-style="normal" text-anchor="start" fill="#000">rapa</text>
<text x="367.80" y="141.30" font-size="17.3" font-weight="bold" font-style="normal" text-anchor="start" fill="#000">J</text>
<line x1="402.80" y1="127.60" x2="402.80" y2="193.40" stroke="#333" stroke-width="0.7"/>
<line x1="401.30" y1="193.40" x2="513.80" y2="193.40" stroke="#333" stroke-width="0.7"/>
<line x1="401.30" y1="193.40" x2="402.80" y2="193.40" stroke="#333" stroke-width="0.6"/>
<text x="398.80" y="195.10" font-size="4.65" font-weight="bold" font-style="normal" text-anchor="end" fill="#000" stroke="#000" stroke-width="0.15">-</text>
<line x1="401.30" y1="171.63" x2="402.80" y2="171.63" stroke="#333" stroke-width="0.6"/>
<text x="398.80" y="173.33" font-size="4.65" font-weight="bold" font-style="normal" text-anchor="end" fill="#000" stroke="#000" stroke-width="0.15">1,000</text>
<line x1="401.30" y1="149.87" x2="402.80" y2="149.87" stroke="#333" stroke-width="0.6"/>
<text x="398.80" y="151.57" font-size="4.65" font-weight="bold" font-style="normal" text-anchor="end" fill="#000" stroke="#000" stroke-width="0.15">2,000</text>
<line x1="401.30" y1="128.10" x2="402.80" y2="128.10" stroke="#333" stroke-width="0.6"/>
<text x="398.80" y="129.80" font-size="4.65" font-weight="bold" font-style="normal" text-anchor="end" fill="#000" stroke="#000" stroke-width="0.15">3,000</text>
<text x="381.60" y="160.80" font-size="5.8" font-weight="bold" font-style="normal" text-anchor="middle" fill="#000" transform="rotate(-90 381.60 160.80)">IP10 (pg/mL)</text>
<text x="408.87" y="203.00" font-size="5.5" font-weight="bold" font-style="normal" text-anchor="middle" fill="#000" stroke="#000" stroke-width="0.2">1</text>
<rect x="408.97" y="190.13" width="4.8" height="3.27" fill="#a9a9a9"/>
<line x1="411.37" y1="190.13" x2="411.37" y2="188.83" stroke="#999" stroke-width="0.7"/>
<text x="421.20" y="203.00" font-size="5.5" font-weight="bold" font-style="normal" text-anchor="middle" fill="#000" stroke="#000" stroke-width="0.2">2</text>
<rect x="416.50" y="183.82" width="4.8" height="9.58" fill="#000"/>
<line x1="418.90" y1="183.82" x2="418.90" y2="181.65" stroke="#444" stroke-width="0.7"/>
<rect x="421.30" y="185.56" width="4.8" height="7.84" fill="#a9a9a9"/>
<line x1="423.70" y1="185.56" x2="423.70" y2="183.39" stroke="#999" stroke-width="0.7"/>
<text x="433.53" y="203.00" font-size="5.5" font-weight="bold" font-style="normal" text-anchor="middle" fill="#000" stroke="#000" stroke-width="0.2">3</text>
<rect x="428.83" y="170.98" width="4.8" height="22.42" fill="#000"/>
<line x1="431.23" y1="170.98" x2="431.23" y2="165.32" stroke="#444" stroke-width="0.7"/>
<rect x="433.63" y="179.47" width="4.8" height="13.93" fill="#a9a9a9"/>
<line x1="436.03" y1="179.47" x2="436.03" y2="175.55" stroke="#999" stroke-width="0.7"/>
<text x="445.87" y="203.00" font-size="5.5" font-weight="bold" font-style="normal" text-anchor="middle" fill="#000" stroke="#000" stroke-width="0.2">4</text>
<rect x="441.17" y="152.04" width="4.8" height="41.36" fill="#000"/>
<line x1="443.57" y1="152.04" x2="443.57" y2="141.38" stroke="#444" stroke-width="0.7"/>
<rect x="445.97" y="173.16" width="4.8" height="20.24" fill="#a9a9a9"/>
<line x1="448.37" y1="173.16" x2="448.37" y2="167.93" stroke="#999" stroke-width="0.7"/>
<text x="470.53" y="203.00" font-size="5.5" font-weight="bold" font-style="normal" text-anchor="middle" fill="#000" stroke="#000" stroke-width="0.2">1</text>
<rect x="465.83" y="191.01" width="4.8" height="2.39" fill="#000"/>
<line x1="468.23" y1="191.01" x2="468.23" y2="190.35" stroke="#444" stroke-width="0.7"/>
<text x="482.87" y="203.00" font-size="5.5" font-weight="bold" font-style="normal" text-anchor="middle" fill="#000" stroke="#000" stroke-width="0.2">2</text>
<text x="495.20" y="203.00" font-size="5.5" font-weight="bold" font-style="normal" text-anchor="middle" fill="#000" stroke="#000" stroke-width="0.2">3</text>
<text x="507.53" y="203.00" font-size="5.5" font-weight="bold" font-style="normal" text-anchor="middle" fill="#000" stroke="#000" stroke-width="0.2">4</text>
<line x1="402.80" y1="193.40" x2="402.80" y2="194.80" stroke="#333" stroke-width="0.5"/>
<line x1="415.13" y1="193.40" x2="415.13" y2="194.80" stroke="#333" stroke-width="0.5"/>
<line x1="427.47" y1="193.40" x2="427.47" y2="194.80" stroke="#333" stroke-width="0.5"/>
<line x1="439.80" y1="193.40" x2="439.80" y2="194.80" stroke="#333" stroke-width="0.5"/>
<line x1="452.13" y1="193.40" x2="452.13" y2="194.80" stroke="#333" stroke-width="0.5"/>
<line x1="464.47" y1="193.40" x2="464.47" y2="194.80" stroke="#333" stroke-width="0.5"/>
<line x1="476.80" y1="193.40" x2="476.80" y2="194.80" stroke="#333" stroke-width="0.5"/>
<line x1="489.13" y1="193.40" x2="489.13" y2="194.80" stroke="#333" stroke-width="0.5"/>
<line x1="501.47" y1="193.40" x2="501.47" y2="194.80" stroke="#333" stroke-width="0.5"/>
<line x1="513.80" y1="193.40" x2="513.80" y2="194.80" stroke="#333" stroke-width="0.5"/>
<text x="428.80" y="212.90" font-size="5.4" font-weight="bold" font-style="normal" text-anchor="middle" fill="#000">BC-1</text>
<text x="489.00" y="212.90" font-size="5.4" font-weight="bold" font-style="normal" text-anchor="middle" fill="#000">BCBL-1</text>
<rect x="405.40" y="128.90" width="3.8" height="3.8" fill="#000"/>
<text x="410.60" y="132.60" font-size="5.1" font-weight="normal" font-style="normal" text-anchor="start" fill="#000">mock</text>
<rect x="405.40" y="136.10" width="3.8" height="3.8" fill="#b0b0b0"/>
<text x="410.60" y="139.80" font-size="5.1" font-weight="normal" font-style="normal" text-anchor="start" fill="#000">rapa</text>
<text x="226.40" y="227.90" font-size="17.3" font-weight="bold" font-style="normal" text-anchor="start" fill="#000">K</text>
<line x1="254.50" y1="231.80" x2="254.50" y2="297.50" stroke="#333" stroke-width="0.7"/>
<line x1="253.00" y1="297.50" x2="365.50" y2="297.50" stroke="#333" stroke-width="0.7"/>
<line x1="253.00" y1="297.50" x2="254.50" y2="297.50" stroke="#333" stroke-width="0.6"/>
<text x="250.50" y="299.20" font-size="4.65" font-weight="bold" font-style="normal" text-anchor="end" fill="#000" stroke="#000" stroke-width="0.15">0</text>
<line x1="253.00" y1="275.77" x2="254.50" y2="275.77" stroke="#333" stroke-width="0.6"/>
<text x="250.50" y="277.47" font-size="4.65" font-weight="bold" font-style="normal" text-anchor="end" fill="#000" stroke="#000" stroke-width="0.15">500</text>
<line x1="253.00" y1="254.03" x2="254.50" y2="254.03" stroke="#333" stroke-width="0.6"/>
<text x="250.50" y="255.73" font-size="4.65" font-weight="bold" font-style="normal" text-anchor="end" fill="#000" stroke="#000" stroke-width="0.15">1,000</text>
<line x1="253.00" y1="232.30" x2="254.50" y2="232.30" stroke="#333" stroke-width="0.6"/>
<text x="250.50" y="234.00" font-size="4.65" font-weight="bold" font-style="normal" text-anchor="end" fill="#000" stroke="#000" stroke-width="0.15">1,500</text>
<text x="231.50" y="266.00" font-size="5.8" font-weight="bold" font-style="normal" text-anchor="middle" fill="#000" transform="rotate(-90 231.50 266.00)">RANTES (pg/mL)</text>
<text x="260.57" y="307.10" font-size="5.5" font-weight="bold" font-style="normal" text-anchor="middle" fill="#000" stroke="#000" stroke-width="0.2">1</text>
<rect x="255.87" y="296.76" width="4.8" height="0.74" fill="#000"/>
<rect x="260.67" y="293.76" width="4.8" height="3.74" fill="#a9a9a9"/>
<line x1="263.07" y1="293.76" x2="263.07" y2="292.68" stroke="#999" stroke-width="0.7"/>
<text x="272.90" y="307.10" font-size="5.5" font-weight="bold" font-style="normal" text-anchor="middle" fill="#000" stroke="#000" stroke-width="0.2">2</text>
<rect x="268.20" y="296.76" width="4.8" height="0.74" fill="#000"/>
<rect x="273.00" y="292.72" width="4.8" height="4.78" fill="#a9a9a9"/>
<line x1="275.40" y1="292.72" x2="275.40" y2="291.41" stroke="#999" stroke-width="0.7"/>
<text x="285.23" y="307.10" font-size="5.5" font-weight="bold" font-style="normal" text-anchor="middle" fill="#000" stroke="#000" stroke-width="0.2">3</text>
<rect x="280.53" y="294.24" width="4.8" height="3.26" fill="#000"/>
<line x1="282.93" y1="294.24" x2="282.93" y2="293.37" stroke="#444" stroke-width="0.7"/>
<rect x="285.33" y="292.02" width="4.8" height="5.48" fill="#a9a9a9"/>
<line x1="287.73" y1="292.02" x2="287.73" y2="290.50" stroke="#999" stroke-width="0.7"/>
<text x="297.57" y="307.10" font-size="5.5" font-weight="bold" font-style="normal" text-anchor="middle" fill="#000" stroke="#000" stroke-width="0.2">4</text>
<rect x="292.87" y="292.50" width="4.8" height="5.00" fill="#000"/>
<line x1="295.27" y1="292.50" x2="295.27" y2="291.41" stroke="#444" stroke-width="0.7"/>
<rect x="297.67" y="290.55" width="4.8" height="6.95" fill="#a9a9a9"/>
<line x1="300.07" y1="290.55" x2="300.07" y2="288.59" stroke="#999" stroke-width="0.7"/>
<text x="322.23" y="307.10" font-size="5.5" font-weight="bold" font-style="normal" text-anchor="middle" fill="#000" stroke="#000" stroke-width="0.2">1</text>
<rect x="322.33" y="290.55" width="4.8" height="6.95" fill="#a9a9a9"/>
<line x1="324.73" y1="290.55" x2="324.73" y2="288.37" stroke="#999" stroke-width="0.7"/>
<text x="334.57" y="307.10" font-size="5.5" font-weight="bold" font-style="normal" text-anchor="middle" fill="#000" stroke="#000" stroke-width="0.2">2</text>
<rect x="329.87" y="295.50" width="4.8" height="2.00" fill="#000"/>
<line x1="332.27" y1="295.50" x2="332.27" y2="294.85" stroke="#444" stroke-width="0.7"/>
<rect x="334.67" y="290.55" width="4.8" height="6.95" fill="#a9a9a9"/>
<line x1="337.07" y1="290.55" x2="337.07" y2="288.59" stroke="#999" stroke-width="0.7"/>
<text x="346.90" y="307.10" font-size="5.5" font-weight="bold" font-style="normal" text-anchor="middle" fill="#000" stroke="#000" stroke-width="0.2">3</text>
<rect x="342.20" y="296.85" width="4.8" height="0.65" fill="#000"/>
<rect x="347.00" y="278.77" width="4.8" height="18.73" fill="#a9a9a9"/>
<line x1="349.40" y1="278.77" x2="349.40" y2="274.20" stroke="#999" stroke-width="0.7"/>
<text x="359.23" y="307.10" font-size="5.5" font-weight="bold" font-style="normal" text-anchor="middle" fill="#000" stroke="#000" stroke-width="0.2">4</text>
<rect x="354.53" y="290.02" width="4.8" height="7.48" fill="#000"/>
<line x1="356.93" y1="290.02" x2="356.93" y2="288.29" stroke="#444" stroke-width="0.7"/>
<rect x="359.33" y="283.76" width="4.8" height="13.74" fill="#a9a9a9"/>
<line x1="361.73" y1="283.76" x2="361.73" y2="280.50" stroke="#999" stroke-width="0.7"/>
<line x1="254.50" y1="297.50" x2="254.50" y2="298.90" stroke="#333" stroke-width="0.5"/>
<line x1="266.83" y1="297.50" x2="266.83" y2="298.90" stroke="#333" stroke-width="0.5"/>
<line x1="279.17" y1="297.50" x2="279.17" y2="298.90" stroke="#333" stroke-width="0.5"/>
<line x1="291.50" y1="297.50" x2="291.50" y2="298.90" stroke="#333" stroke-width="0.5"/>
<line x1="303.83" y1="297.50" x2="303.83" y2="298.90" stroke="#333" stroke-width="0.5"/>
<line x1="316.17" y1="297.50" x2="316.17" y2="298.90" stroke="#333" stroke-width="0.5"/>
<line x1="328.50" y1="297.50" x2="328.50" y2="298.90" stroke="#333" stroke-width="0.5"/>
<line x1="340.83" y1="297.50" x2="340.83" y2="298.90" stroke="#333" stroke-width="0.5"/>
<line x1="353.17" y1="297.50" x2="353.17" y2="298.90" stroke="#333" stroke-width="0.5"/>
<line x1="365.50" y1="297.50" x2="365.50" y2="298.90" stroke="#333" stroke-width="0.5"/>
<text x="281.80" y="317.00" font-size="5.4" font-weight="bold" font-style="normal" text-anchor="middle" fill="#000">BC-1</text>
<text x="344.50" y="317.00" font-size="5.4" font-weight="bold" font-style="normal" text-anchor="middle" fill="#000">BCBL-1</text>
<rect x="257.10" y="234.00" width="3.8" height="3.8" fill="#000"/>
<text x="262.30" y="237.70" font-size="5.1" font-weight="normal" font-style="normal" text-anchor="start" fill="#000">mock</text>
<rect x="257.10" y="241.20" width="3.8" height="3.8" fill="#b0b0b0"/>
<text x="262.30" y="244.90" font-size="5.1" font-weight="normal" font-style="normal" text-anchor="start" fill="#000">rapa</text>
<text x="371.40" y="227.00" font-size="17.3" font-weight="bold" font-style="normal" text-anchor="start" fill="#000">L</text>
<line x1="403.10" y1="231.80" x2="403.10" y2="297.50" stroke="#333" stroke-width="0.7"/>
<line x1="401.60" y1="297.50" x2="513.60" y2="297.50" stroke="#333" stroke-width="0.7"/>
<line x1="401.60" y1="297.50" x2="403.10" y2="297.50" stroke="#333" stroke-width="0.6"/>
<text x="399.10" y="299.20" font-size="4.65" font-weight="bold" font-style="normal" text-anchor="end" fill="#000" stroke="#000" stroke-width="0.15">0</text>
<line x1="401.60" y1="275.77" x2="403.10" y2="275.77" stroke="#333" stroke-width="0.6"/>
<text x="399.10" y="277.47" font-size="4.65" font-weight="bold" font-style="normal" text-anchor="end" fill="#000" stroke="#000" stroke-width="0.15">500</text>
<line x1="401.60" y1="254.03" x2="403.10" y2="254.03" stroke="#333" stroke-width="0.6"/>
<text x="399.10" y="255.73" font-size="4.65" font-weight="bold" font-style="normal" text-anchor="end" fill="#000" stroke="#000" stroke-width="0.15">1,000</text>
<line x1="401.60" y1="232.30" x2="403.10" y2="232.30" stroke="#333" stroke-width="0.6"/>
<text x="399.10" y="234.00" font-size="4.65" font-weight="bold" font-style="normal" text-anchor="end" fill="#000" stroke="#000" stroke-width="0.15">1,500</text>
<text x="379.80" y="265.80" font-size="5.8" font-weight="bold" font-style="normal" text-anchor="middle" fill="#000" transform="rotate(-90 379.80 265.80)">MIP1α (pg/mL)</text>
<text x="409.14" y="307.10" font-size="5.5" font-weight="bold" font-style="normal" text-anchor="middle" fill="#000" stroke="#000" stroke-width="0.2">1</text>
<rect x="404.44" y="288.76" width="4.8" height="8.74" fill="#000"/>
<line x1="406.84" y1="288.76" x2="406.84" y2="286.16" stroke="#444" stroke-width="0.7"/>
<rect x="409.24" y="293.76" width="4.8" height="3.74" fill="#a9a9a9"/>
<line x1="411.64" y1="293.76" x2="411.64" y2="292.24" stroke="#999" stroke-width="0.7"/>
<text x="421.42" y="307.10" font-size="5.5" font-weight="bold" font-style="normal" text-anchor="middle" fill="#000" stroke="#000" stroke-width="0.2">2</text>
<rect x="416.72" y="291.24" width="4.8" height="6.26" fill="#000"/>
<line x1="419.12" y1="291.24" x2="419.12" y2="290.15" stroke="#444" stroke-width="0.7"/>
<rect x="421.52" y="293.02" width="4.8" height="4.48" fill="#a9a9a9"/>
<line x1="423.92" y1="293.02" x2="423.92" y2="291.72" stroke="#999" stroke-width="0.7"/>
<text x="433.69" y="307.10" font-size="5.5" font-weight="bold" font-style="normal" text-anchor="middle" fill="#000" stroke="#000" stroke-width="0.2">3</text>
<rect x="428.99" y="288.76" width="4.8" height="8.74" fill="#000"/>
<line x1="431.39" y1="288.76" x2="431.39" y2="286.81" stroke="#444" stroke-width="0.7"/>
<rect x="433.79" y="291.76" width="4.8" height="5.74" fill="#a9a9a9"/>
<line x1="436.19" y1="291.76" x2="436.19" y2="290.24" stroke="#999" stroke-width="0.7"/>
<text x="445.97" y="307.10" font-size="5.5" font-weight="bold" font-style="normal" text-anchor="middle" fill="#000" stroke="#000" stroke-width="0.2">4</text>
<rect x="441.27" y="284.50" width="4.8" height="13.00" fill="#000"/>
<line x1="443.67" y1="284.50" x2="443.67" y2="281.46" stroke="#444" stroke-width="0.7"/>
<rect x="446.07" y="290.50" width="4.8" height="7.00" fill="#a9a9a9"/>
<line x1="448.47" y1="290.50" x2="448.47" y2="288.55" stroke="#999" stroke-width="0.7"/>
<text x="470.53" y="307.10" font-size="5.5" font-weight="bold" font-style="normal" text-anchor="middle" fill="#000" stroke="#000" stroke-width="0.2">1</text>
<rect x="465.83" y="294.24" width="4.8" height="3.26" fill="#000"/>
<line x1="468.23" y1="294.24" x2="468.23" y2="293.59" stroke="#444" stroke-width="0.7"/>
<rect x="470.63" y="291.24" width="4.8" height="6.26" fill="#a9a9a9"/>
<line x1="473.03" y1="291.24" x2="473.03" y2="289.50" stroke="#999" stroke-width="0.7"/>
<text x="482.81" y="307.10" font-size="5.5" font-weight="bold" font-style="normal" text-anchor="middle" fill="#000" stroke="#000" stroke-width="0.2">2</text>
<rect x="478.11" y="285.76" width="4.8" height="11.74" fill="#000"/>
<line x1="480.51" y1="285.76" x2="480.51" y2="282.72" stroke="#444" stroke-width="0.7"/>
<rect x="482.91" y="290.50" width="4.8" height="7.00" fill="#a9a9a9"/>
<line x1="485.31" y1="290.50" x2="485.31" y2="288.55" stroke="#999" stroke-width="0.7"/>
<text x="495.08" y="307.10" font-size="5.5" font-weight="bold" font-style="normal" text-anchor="middle" fill="#000" stroke="#000" stroke-width="0.2">3</text>
<rect x="490.38" y="289.24" width="4.8" height="8.26" fill="#000"/>
<line x1="492.78" y1="289.24" x2="492.78" y2="287.50" stroke="#444" stroke-width="0.7"/>
<rect x="495.18" y="278.77" width="4.8" height="18.73" fill="#a9a9a9"/>
<line x1="497.58" y1="278.77" x2="497.58" y2="274.20" stroke="#999" stroke-width="0.7"/>
<text x="507.36" y="307.10" font-size="5.5" font-weight="bold" font-style="normal" text-anchor="middle" fill="#000" stroke="#000" stroke-width="0.2">4</text>
<rect x="502.66" y="257.03" width="4.8" height="40.47" fill="#000"/>
<line x1="505.06" y1="257.03" x2="505.06" y2="246.60" stroke="#444" stroke-width="0.7"/>
<rect x="507.46" y="283.76" width="4.8" height="13.74" fill="#a9a9a9"/>
<line x1="509.86" y1="283.76" x2="509.86" y2="280.50" stroke="#999" stroke-width="0.7"/>
<line x1="403.10" y1="297.50" x2="403.10" y2="298.90" stroke="#333" stroke-width="0.5"/>
<line x1="415.38" y1="297.50" x2="415.38" y2="298.90" stroke="#333" stroke-width="0.5"/>
<line x1="427.66" y1="297.50" x2="427.66" y2="298.90" stroke="#333" stroke-width="0.5"/>
<line x1="439.93" y1="297.50" x2="439.93" y2="298.90" stroke="#333" stroke-width="0.5"/>
<line x1="452.21" y1="297.50" x2="452.21" y2="298.90" stroke="#333" stroke-width="0.5"/>
<line x1="464.49" y1="297.50" x2="464.49" y2="298.90" stroke="#333" stroke-width="0.5"/>
<line x1="476.77" y1="297.50" x2="476.77" y2="298.90" stroke="#333" stroke-width="0.5"/>
<line x1="489.04" y1="297.50" x2="489.04" y2="298.90" stroke="#333" stroke-width="0.5"/>
<line x1="501.32" y1="297.50" x2="501.32" y2="298.90" stroke="#333" stroke-width="0.5"/>
<line x1="513.60" y1="297.50" x2="513.60" y2="298.90" stroke="#333" stroke-width="0.5"/>
<text x="430.40" y="317.00" font-size="5.4" font-weight="bold" font-style="normal" text-anchor="middle" fill="#000">BC-1</text>
<text x="493.10" y="317.00" font-size="5.4" font-weight="bold" font-style="normal" text-anchor="middle" fill="#000">BCBL-1</text>
<rect x="405.70" y="234.00" width="3.8" height="3.8" fill="#000"/>
<text x="410.90" y="237.70" font-size="5.1" font-weight="normal" font-style="normal" text-anchor="start" fill="#000">mock</text>
<rect x="405.70" y="241.20" width="3.8" height="3.8" fill="#b0b0b0"/>
<text x="410.90" y="244.90" font-size="5.1" font-weight="normal" font-style="normal" text-anchor="start" fill="#000">rapa</text>
<text x="225.70" y="332.40" font-size="17.3" font-weight="bold" font-style="normal" text-anchor="start" fill="#000">M</text>
<line x1="256.50" y1="335.80" x2="256.50" y2="401.60" stroke="#333" stroke-width="0.7"/>
<line x1="255.00" y1="401.60" x2="371.50" y2="401.60" stroke="#333" stroke-width="0.7"/>
<line x1="255.00" y1="401.60" x2="256.50" y2="401.60" stroke="#333" stroke-width="0.6"/>
<text x="252.50" y="403.30" font-size="4.65" font-weight="bold" font-style="normal" text-anchor="end" fill="#000" stroke="#000" stroke-width="0.15">0</text>
<line x1="255.00" y1="379.83" x2="256.50" y2="379.83" stroke="#333" stroke-width="0.6"/>
<text x="252.50" y="381.53" font-size="4.65" font-weight="bold" font-style="normal" text-anchor="end" fill="#000" stroke="#000" stroke-width="0.15">200</text>
<line x1="255.00" y1="358.07" x2="256.50" y2="358.07" stroke="#333" stroke-width="0.6"/>
<text x="252.50" y="359.77" font-size="4.65" font-weight="bold" font-style="normal" text-anchor="end" fill="#000" stroke="#000" stroke-width="0.15">400</text>
<line x1="255.00" y1="336.30" x2="256.50" y2="336.30" stroke="#333" stroke-width="0.6"/>
<text x="252.50" y="338.00" font-size="4.65" font-weight="bold" font-style="normal" text-anchor="end" fill="#000" stroke="#000" stroke-width="0.15">600</text>
<text x="240.20" y="368.60" font-size="5.7" font-weight="bold" font-style="normal" text-anchor="middle" fill="#000" transform="rotate(-90 240.20 368.60)">hu-IL12p40 (pg/mL)</text>
<text x="262.79" y="411.20" font-size="5.5" font-weight="bold" font-style="normal" text-anchor="middle" fill="#000" stroke="#000" stroke-width="0.2">1</text>
<rect x="257.99" y="398.88" width="4.9" height="2.72" fill="#000"/>
<line x1="260.44" y1="398.88" x2="260.44" y2="398.33" stroke="#444" stroke-width="0.7"/>
<rect x="262.89" y="392.68" width="4.9" height="8.92" fill="#a9a9a9"/>
<line x1="265.34" y1="392.68" x2="265.34" y2="390.50" stroke="#999" stroke-width="0.7"/>
<text x="275.57" y="411.20" font-size="5.5" font-weight="bold" font-style="normal" text-anchor="middle" fill="#000" stroke="#000" stroke-width="0.2">2</text>
<rect x="270.77" y="386.47" width="4.9" height="15.13" fill="#000"/>
<line x1="273.22" y1="386.47" x2="273.22" y2="382.66" stroke="#444" stroke-width="0.7"/>
<rect x="275.67" y="389.30" width="4.9" height="12.30" fill="#a9a9a9"/>
<line x1="278.12" y1="389.30" x2="278.12" y2="385.49" stroke="#999" stroke-width="0.7"/>
<text x="288.34" y="411.20" font-size="5.5" font-weight="bold" font-style="normal" text-anchor="middle" fill="#000" stroke="#000" stroke-width="0.2">3</text>
<rect x="283.54" y="372.32" width="4.9" height="29.28" fill="#000"/>
<line x1="285.99" y1="372.32" x2="285.99" y2="364.71" stroke="#444" stroke-width="0.7"/>
<rect x="288.44" y="386.25" width="4.9" height="15.35" fill="#a9a9a9"/>
<line x1="290.89" y1="386.25" x2="290.89" y2="381.36" stroke="#999" stroke-width="0.7"/>
<text x="301.12" y="411.20" font-size="5.5" font-weight="bold" font-style="normal" text-anchor="middle" fill="#000" stroke="#000" stroke-width="0.2">4</text>
<rect x="296.32" y="364.60" width="4.9" height="37.00" fill="#000"/>
<line x1="298.77" y1="364.60" x2="298.77" y2="354.80" stroke="#444" stroke-width="0.7"/>
<rect x="301.22" y="380.05" width="4.9" height="21.55" fill="#a9a9a9"/>
<line x1="303.67" y1="380.05" x2="303.67" y2="374.07" stroke="#999" stroke-width="0.7"/>
<text x="326.68" y="411.20" font-size="5.5" font-weight="bold" font-style="normal" text-anchor="middle" fill="#000" stroke="#000" stroke-width="0.2">1</text>
<rect x="321.88" y="393.87" width="4.9" height="7.73" fill="#000"/>
<line x1="324.33" y1="393.87" x2="324.33" y2="391.70" stroke="#444" stroke-width="0.7"/>
<rect x="326.78" y="400.08" width="4.9" height="1.52" fill="#a9a9a9"/>
<line x1="329.23" y1="400.08" x2="329.23" y2="399.53" stroke="#999" stroke-width="0.7"/>
<text x="339.46" y="411.20" font-size="5.5" font-weight="bold" font-style="normal" text-anchor="middle" fill="#000" stroke="#000" stroke-width="0.2">2</text>
<rect x="334.66" y="397.57" width="4.9" height="4.03" fill="#000"/>
<line x1="337.11" y1="397.57" x2="337.11" y2="396.48" stroke="#444" stroke-width="0.7"/>
<rect x="339.56" y="399.42" width="4.9" height="2.18" fill="#a9a9a9"/>
<line x1="342.01" y1="399.42" x2="342.01" y2="398.55" stroke="#999" stroke-width="0.7"/>
<text x="352.23" y="411.20" font-size="5.5" font-weight="bold" font-style="normal" text-anchor="middle" fill="#000" stroke="#000" stroke-width="0.2">3</text>
<rect x="347.43" y="399.42" width="4.9" height="2.18" fill="#000"/>
<line x1="349.88" y1="399.42" x2="349.88" y2="398.88" stroke="#444" stroke-width="0.7"/>
<rect x="352.33" y="393.87" width="4.9" height="7.73" fill="#a9a9a9"/>
<line x1="354.78" y1="393.87" x2="354.78" y2="391.15" stroke="#999" stroke-width="0.7"/>
<text x="365.01" y="411.20" font-size="5.5" font-weight="bold" font-style="normal" text-anchor="middle" fill="#000" stroke="#000" stroke-width="0.2">4</text>
<rect x="360.21" y="392.35" width="4.9" height="9.25" fill="#000"/>
<line x1="362.66" y1="392.35" x2="362.66" y2="389.63" stroke="#444" stroke-width="0.7"/>
<rect x="365.11" y="397.03" width="4.9" height="4.57" fill="#a9a9a9"/>
<line x1="367.56" y1="397.03" x2="367.56" y2="395.40" stroke="#999" stroke-width="0.7"/>
<line x1="256.50" y1="401.60" x2="256.50" y2="403.00" stroke="#333" stroke-width="0.5"/>
<line x1="269.28" y1="401.60" x2="269.28" y2="403.00" stroke="#333" stroke-width="0.5"/>
<line x1="282.06" y1="401.60" x2="282.06" y2="403.00" stroke="#333" stroke-width="0.5"/>
<line x1="294.83" y1="401.60" x2="294.83" y2="403.00" stroke="#333" stroke-width="0.5"/>
<line x1="307.61" y1="401.60" x2="307.61" y2="403.00" stroke="#333" stroke-width="0.5"/>
<line x1="320.39" y1="401.60" x2="320.39" y2="403.00" stroke="#333" stroke-width="0.5"/>
<line x1="333.17" y1="401.60" x2="333.17" y2="403.00" stroke="#333" stroke-width="0.5"/>
<line x1="345.94" y1="401.60" x2="345.94" y2="403.00" stroke="#333" stroke-width="0.5"/>
<line x1="358.72" y1="401.60" x2="358.72" y2="403.00" stroke="#333" stroke-width="0.5"/>
<line x1="371.50" y1="401.60" x2="371.50" y2="403.00" stroke="#333" stroke-width="0.5"/>
<text x="285.50" y="421.10" font-size="5.4" font-weight="bold" font-style="normal" text-anchor="middle" fill="#000">BC-1</text>
<text x="346.90" y="421.10" font-size="5.4" font-weight="bold" font-style="normal" text-anchor="middle" fill="#000">BCBL-1</text>
<rect x="259.10" y="337.20" width="3.8" height="3.8" fill="#000"/>
<text x="264.30" y="340.90" font-size="5.1" font-weight="normal" font-style="normal" text-anchor="start" fill="#000">mock</text>
<rect x="259.10" y="344.40" width="3.8" height="3.8" fill="#b0b0b0"/>
<text x="264.30" y="348.10" font-size="5.1" font-weight="normal" font-style="normal" text-anchor="start" fill="#000">rapa</text>
<text x="373.00" y="332.30" font-size="17.3" font-weight="bold" font-style="normal" text-anchor="start" fill="#000">N</text>
<text x="447.60" y="329.40" font-size="4.25" font-weight="normal" font-style="normal" text-anchor="middle" fill="#111" stroke="#111" stroke-width="0.12">Standard Curve for IL6</text>
<text x="447.40" y="334.30" font-size="4.25" font-weight="normal" font-style="normal" text-anchor="middle" fill="#111" stroke="#111" stroke-width="0.12">(Five Parameter Logistic, weighted by 1/y)</text>
<text x="447.90" y="339.10" font-size="4.25" font-weight="normal" font-style="normal" text-anchor="middle" fill="#111" stroke="#111" stroke-width="0.12">R squared: 0.9971</text>
<line x1="400.5" y1="337.2" x2="400.5" y2="403.0" stroke="#333" stroke-width="0.9"/>
<line x1="399.0" y1="403.0" x2="520.0" y2="403.0" stroke="#444" stroke-width="0.7"/>
<line x1="427.0" y1="336.2" x2="427.0" y2="403.0" stroke="#b0b0b0" stroke-width="0.6" stroke-dasharray="1.6 1.1"/>
<line x1="518.2" y1="336.2" x2="518.2" y2="403.0" stroke="#b0b0b0" stroke-width="0.6" stroke-dasharray="1.6 1.1"/>
<line x1="398.5" y1="403.00" x2="400.5" y2="403.00" stroke="#444" stroke-width="0.5"/>
<line x1="399.4" y1="398.27" x2="400.5" y2="398.27" stroke="#555" stroke-width="0.4"/>
<line x1="399.4" y1="395.51" x2="400.5" y2="395.51" stroke="#555" stroke-width="0.4"/>
<line x1="399.4" y1="393.55" x2="400.5" y2="393.55" stroke="#555" stroke-width="0.4"/>
<line x1="399.4" y1="392.03" x2="400.5" y2="392.03" stroke="#555" stroke-width="0.4"/>
<line x1="399.4" y1="390.78" x2="400.5" y2="390.78" stroke="#555" stroke-width="0.4"/>
<line x1="399.4" y1="389.73" x2="400.5" y2="389.73" stroke="#555" stroke-width="0.4"/>
<line x1="399.4" y1="388.82" x2="400.5" y2="388.82" stroke="#555" stroke-width="0.4"/>
<line x1="399.4" y1="388.02" x2="400.5" y2="388.02" stroke="#555" stroke-width="0.4"/>
<line x1="398.5" y1="387.30" x2="400.5" y2="387.30" stroke="#444" stroke-width="0.5"/>
<line x1="399.4" y1="382.57" x2="400.5" y2="382.57" stroke="#555" stroke-width="0.4"/>
<line x1="399.4" y1="379.81" x2="400.5" y2="379.81" stroke="#555" stroke-width="0.4"/>
<line x1="399.4" y1="377.85" x2="400.5" y2="377.85" stroke="#555" stroke-width="0.4"/>
<line x1="399.4" y1="376.33" x2="400.5" y2="376.33" stroke="#555" stroke-width="0.4"/>
<line x1="399.4" y1="375.08" x2="400.5" y2="375.08" stroke="#555" stroke-width="0.4"/>
<line x1="399.4" y1="374.03" x2="400.5" y2="374.03" stroke="#555" stroke-width="0.4"/>
<line x1="399.4" y1="373.12" x2="400.5" y2="373.12" stroke="#555" stroke-width="0.4"/>
<line x1="399.4" y1="372.32" x2="400.5" y2="372.32" stroke="#555" stroke-width="0.4"/>
<line x1="398.5" y1="371.60" x2="400.5" y2="371.60" stroke="#444" stroke-width="0.5"/>
<line x1="399.4" y1="366.87" x2="400.5" y2="366.87" stroke="#555" stroke-width="0.4"/>
<line x1="399.4" y1="364.11" x2="400.5" y2="364.11" stroke="#555" stroke-width="0.4"/>
<line x1="399.4" y1="362.15" x2="400.5" y2="362.15" stroke="#555" stroke-width="0.4"/>
<line x1="399.4" y1="360.63" x2="400.5" y2="360.63" stroke="#555" stroke-width="0.4"/>
<line x1="399.4" y1="359.38" x2="400.5" y2="359.38" stroke="#555" stroke-width="0.4"/>
<line x1="399.4" y1="358.33" x2="400.5" y2="358.33" stroke="#555" stroke-width="0.4"/>
<line x1="399.4" y1="357.42" x2="400.5" y2="357.42" stroke="#555" stroke-width="0.4"/>
<line x1="399.4" y1="356.62" x2="400.5" y2="356.62" stroke="#555" stroke-width="0.4"/>
<line x1="398.5" y1="355.90" x2="400.5" y2="355.90" stroke="#444" stroke-width="0.5"/>
<line x1="399.4" y1="351.17" x2="400.5" y2="351.17" stroke="#555" stroke-width="0.4"/>
<line x1="399.4" y1="348.41" x2="400.5" y2="348.41" stroke="#555" stroke-width="0.4"/>
<line x1="399.4" y1="346.45" x2="400.5" y2="346.45" stroke="#555" stroke-width="0.4"/>
<line x1="399.4" y1="344.93" x2="400.5" y2="344.93" stroke="#555" stroke-width="0.4"/>
<line x1="399.4" y1="343.68" x2="400.5" y2="343.68" stroke="#555" stroke-width="0.4"/>
<line x1="399.4" y1="342.63" x2="400.5" y2="342.63" stroke="#555" stroke-width="0.4"/>
<line x1="399.4" y1="341.72" x2="400.5" y2="341.72" stroke="#555" stroke-width="0.4"/>
<line x1="399.4" y1="340.92" x2="400.5" y2="340.92" stroke="#555" stroke-width="0.4"/>
<line x1="398.5" y1="340.20" x2="400.5" y2="340.20" stroke="#444" stroke-width="0.5"/>
<text x="398.30" y="402.60" font-size="3.0" font-weight="normal" font-style="normal" text-anchor="end" fill="#222">1</text>
<text x="398.30" y="386.90" font-size="3.0" font-weight="normal" font-style="normal" text-anchor="end" fill="#222">10¹</text>
<text x="398.30" y="371.20" font-size="3.0" font-weight="normal" font-style="normal" text-anchor="end" fill="#222">10²</text>
<text x="398.30" y="355.50" font-size="3.0" font-weight="normal" font-style="normal" text-anchor="end" fill="#222">10³</text>
<text x="398.30" y="339.80" font-size="3.0" font-weight="normal" font-style="normal" text-anchor="end" fill="#222">10⁴</text>
<line x1="400.50" y1="402.0" x2="400.50" y2="404.8" stroke="#444" stroke-width="0.5"/>
<text x="400.50" y="408.40" font-size="3.2" font-weight="normal" font-style="normal" text-anchor="middle" fill="#222">1</text>
<line x1="409.92" y1="402.1" x2="409.92" y2="403.9" stroke="#555" stroke-width="0.45"/>
<line x1="415.43" y1="402.1" x2="415.43" y2="403.9" stroke="#555" stroke-width="0.45"/>
<line x1="419.34" y1="402.1" x2="419.34" y2="403.9" stroke="#555" stroke-width="0.45"/>
<line x1="422.38" y1="402.1" x2="422.38" y2="403.9" stroke="#555" stroke-width="0.45"/>
<line x1="424.86" y1="402.1" x2="424.86" y2="403.9" stroke="#555" stroke-width="0.45"/>
<line x1="426.95" y1="402.1" x2="426.95" y2="403.9" stroke="#555" stroke-width="0.45"/>
<line x1="428.77" y1="402.1" x2="428.77" y2="403.9" stroke="#555" stroke-width="0.45"/>
<line x1="430.37" y1="402.1" x2="430.37" y2="403.9" stroke="#555" stroke-width="0.45"/>
<line x1="431.80" y1="402.0" x2="431.80" y2="404.8" stroke="#444" stroke-width="0.5"/>
<text x="432.20" y="408.40" font-size="3.2" font-weight="normal" font-style="normal" text-anchor="middle" fill="#222">10¹</text>
<line x1="441.22" y1="402.1" x2="441.22" y2="403.9" stroke="#555" stroke-width="0.45"/>
<line x1="446.73" y1="402.1" x2="446.73" y2="403.9" stroke="#555" stroke-width="0.45"/>
<line x1="450.64" y1="402.1" x2="450.64" y2="403.9" stroke="#555" stroke-width="0.45"/>
<line x1="453.68" y1="402.1" x2="453.68" y2="403.9" stroke="#555" stroke-width="0.45"/>
<line x1="456.16" y1="402.1" x2="456.16" y2="403.9" stroke="#555" stroke-width="0.45"/>
<line x1="458.25" y1="402.1" x2="458.25" y2="403.9" stroke="#555" stroke-width="0.45"/>
<line x1="460.07" y1="402.1" x2="460.07" y2="403.9" stroke="#555" stroke-width="0.45"/>
<line x1="461.67" y1="402.1" x2="461.67" y2="403.9" stroke="#555" stroke-width="0.45"/>
<line x1="463.10" y1="402.0" x2="463.10" y2="404.8" stroke="#444" stroke-width="0.5"/>
<text x="463.50" y="408.40" font-size="3.2" font-weight="normal" font-style="normal" text-anchor="middle" fill="#222">10²</text>
<line x1="472.52" y1="402.1" x2="472.52" y2="403.9" stroke="#555" stroke-width="0.45"/>
<line x1="478.03" y1="402.1" x2="478.03" y2="403.9" stroke="#555" stroke-width="0.45"/>
<line x1="481.94" y1="402.1" x2="481.94" y2="403.9" stroke="#555" stroke-width="0.45"/>
<line x1="484.98" y1="402.1" x2="484.98" y2="403.9" stroke="#555" stroke-width="0.45"/>
<line x1="487.46" y1="402.1" x2="487.46" y2="403.9" stroke="#555" stroke-width="0.45"/>
<line x1="489.55" y1="402.1" x2="489.55" y2="403.9" stroke="#555" stroke-width="0.45"/>
<line x1="491.37" y1="402.1" x2="491.37" y2="403.9" stroke="#555" stroke-width="0.45"/>
<line x1="492.97" y1="402.1" x2="492.97" y2="403.9" stroke="#555" stroke-width="0.45"/>
<line x1="494.40" y1="402.0" x2="494.40" y2="404.8" stroke="#444" stroke-width="0.5"/>
<text x="494.80" y="408.40" font-size="3.2" font-weight="normal" font-style="normal" text-anchor="middle" fill="#222">10³</text>
<line x1="503.82" y1="402.1" x2="503.82" y2="403.9" stroke="#555" stroke-width="0.45"/>
<line x1="509.33" y1="402.1" x2="509.33" y2="403.9" stroke="#555" stroke-width="0.45"/>
<line x1="513.24" y1="402.1" x2="513.24" y2="403.9" stroke="#555" stroke-width="0.45"/>
<line x1="516.28" y1="402.1" x2="516.28" y2="403.9" stroke="#555" stroke-width="0.45"/>
<line x1="518.76" y1="402.1" x2="518.76" y2="403.9" stroke="#555" stroke-width="0.45"/>
<polyline points="414.1,403.0 414.4,397 415.2,391.5 416.8,386.5 419.5,382 423,378.2 427,375.5 434,369.9 442,364.5 449.5,359.8 457,355.2 464.5,351.2 472,347.6 479.5,344.7 487,342.2 494.3,340.1 501.6,338.4 509,337.3 517,336.6" fill="none" stroke="#333" stroke-width="0.6"/>
<rect x="426.1" y="374.6" width="1.8" height="1.8" fill="#111"/>
<rect x="426.1" y="366.0" width="1.8" height="1.8" fill="#111"/>
<rect x="441.1" y="363.6" width="1.8" height="1.8" fill="#111"/>
<rect x="456.1" y="354.3" width="1.8" height="1.8" fill="#111"/>
<rect x="471.1" y="346.70000000000005" width="1.8" height="1.8" fill="#111"/>
<rect x="486.1" y="341.3" width="1.8" height="1.8" fill="#111"/>
<rect x="500.70000000000005" y="337.5" width="1.8" height="1.8" fill="#111"/>
<rect x="516.1" y="335.70000000000005" width="1.8" height="1.8" fill="#111"/>
<text x="387.60" y="369.80" font-size="3.0" font-weight="normal" font-style="normal" text-anchor="middle" fill="#222" transform="rotate(-90 387.60 369.80)">log MFI</text>
<text x="460.00" y="412.80" font-size="3.5" font-weight="normal" font-style="normal" text-anchor="middle" fill="#222">conc. (pg/ml)</text>
</svg>
</body>
</html>
